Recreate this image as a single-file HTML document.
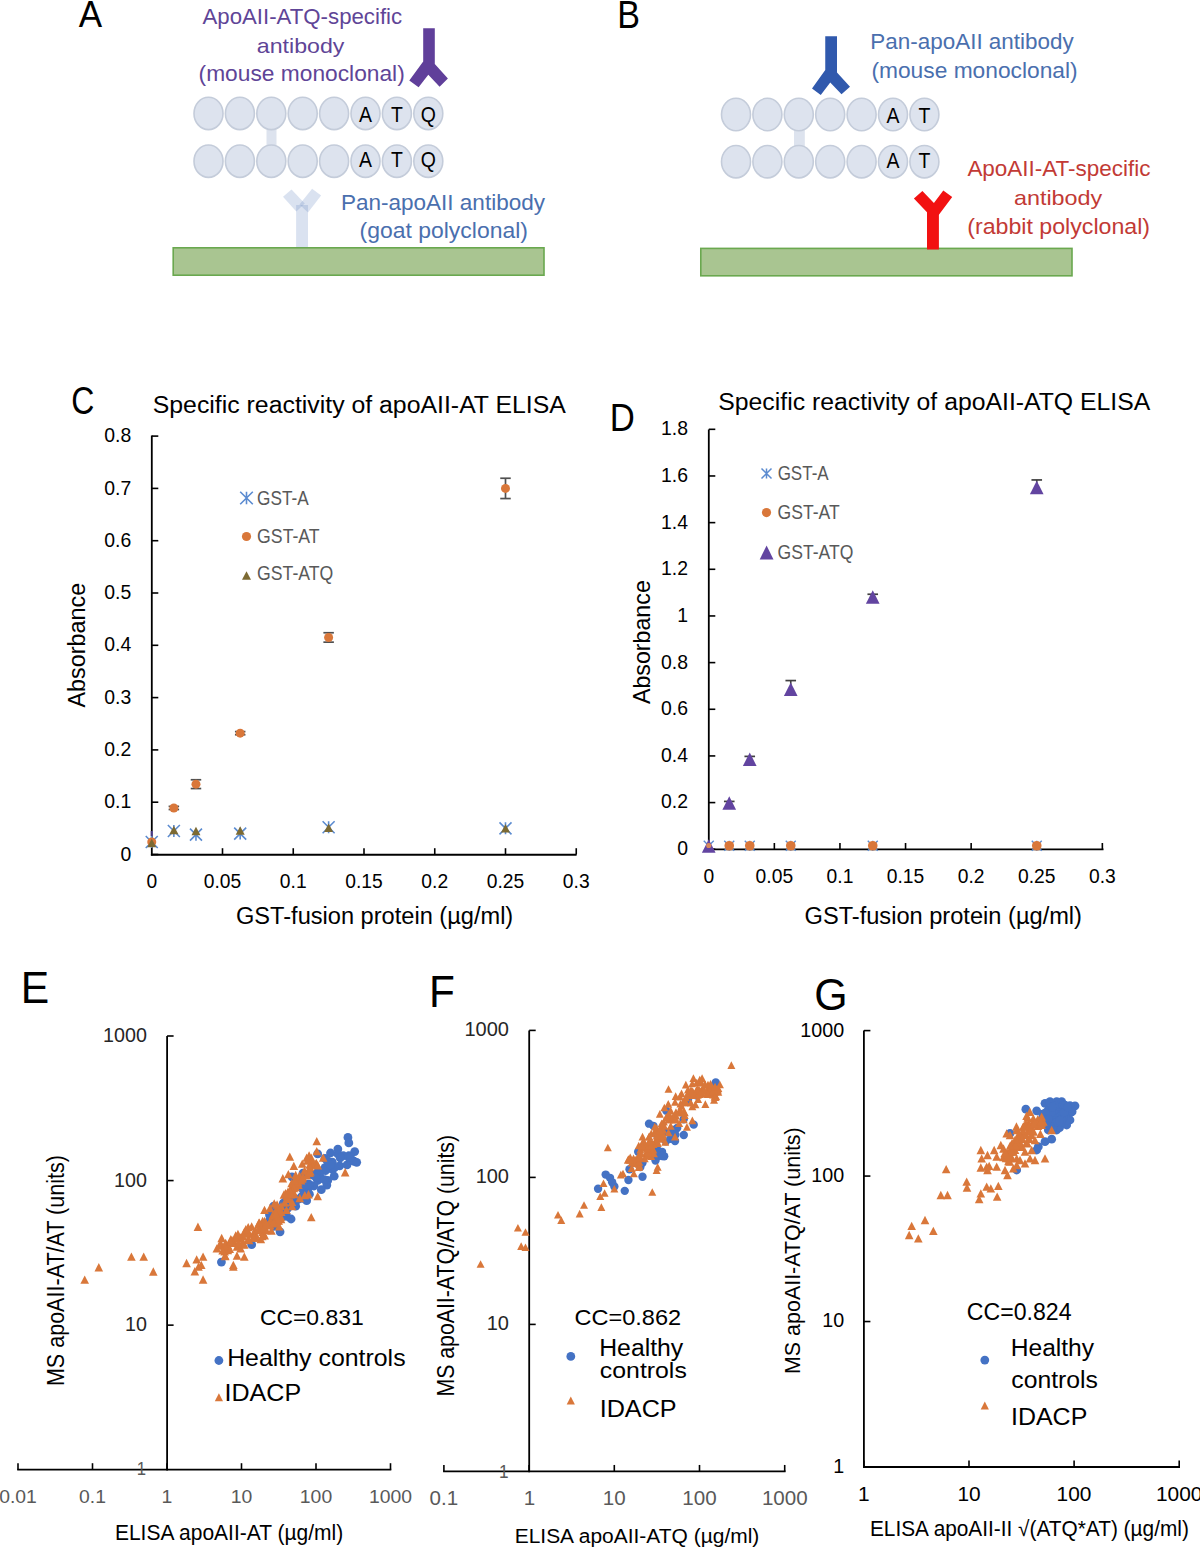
<!DOCTYPE html><html><head><meta charset="utf-8"><title>Figure</title><style>html,body{margin:0;padding:0;background:#fff;width:1200px;height:1547px;overflow:hidden}svg{display:block}text{font-family:"Liberation Sans",sans-serif}</style></head><body>
<svg width="1200" height="1547" viewBox="0 0 1200 1547">
<rect width="1200" height="1547" fill="#fff"/>
<rect x="266.5" y="128" width="10" height="20" fill="#dde3ee"/>
<ellipse cx="208.50" cy="113.40" rx="14.5" ry="16.2" fill="#dde3ee" stroke="#c4ccda" stroke-width="1.6"/>
<ellipse cx="239.90" cy="113.40" rx="14.5" ry="16.2" fill="#dde3ee" stroke="#c4ccda" stroke-width="1.6"/>
<ellipse cx="271.30" cy="113.40" rx="14.5" ry="16.2" fill="#dde3ee" stroke="#c4ccda" stroke-width="1.6"/>
<ellipse cx="302.70" cy="113.40" rx="14.5" ry="16.2" fill="#dde3ee" stroke="#c4ccda" stroke-width="1.6"/>
<ellipse cx="334.10" cy="113.40" rx="14.5" ry="16.2" fill="#dde3ee" stroke="#c4ccda" stroke-width="1.6"/>
<ellipse cx="365.50" cy="113.40" rx="14.5" ry="16.2" fill="#dde3ee" stroke="#c4ccda" stroke-width="1.6"/>
<ellipse cx="396.90" cy="113.40" rx="14.5" ry="16.2" fill="#dde3ee" stroke="#c4ccda" stroke-width="1.6"/>
<ellipse cx="428.30" cy="113.40" rx="14.5" ry="16.2" fill="#dde3ee" stroke="#c4ccda" stroke-width="1.6"/>
<text x="0" y="0" font-size="21.6" text-anchor="middle" fill="#000" transform="translate(365.50 121.50) scale(0.9 1)">A</text>
<text x="0" y="0" font-size="21.6" text-anchor="middle" fill="#000" transform="translate(396.90 121.50) scale(0.9 1)">T</text>
<text x="0" y="0" font-size="21.6" text-anchor="middle" fill="#000" transform="translate(428.30 121.50) scale(0.9 1)">Q</text>
<ellipse cx="208.50" cy="161.20" rx="14.5" ry="16.2" fill="#dde3ee" stroke="#c4ccda" stroke-width="1.6"/>
<ellipse cx="239.90" cy="161.20" rx="14.5" ry="16.2" fill="#dde3ee" stroke="#c4ccda" stroke-width="1.6"/>
<ellipse cx="271.30" cy="161.20" rx="14.5" ry="16.2" fill="#dde3ee" stroke="#c4ccda" stroke-width="1.6"/>
<ellipse cx="302.70" cy="161.20" rx="14.5" ry="16.2" fill="#dde3ee" stroke="#c4ccda" stroke-width="1.6"/>
<ellipse cx="334.10" cy="161.20" rx="14.5" ry="16.2" fill="#dde3ee" stroke="#c4ccda" stroke-width="1.6"/>
<ellipse cx="365.50" cy="161.20" rx="14.5" ry="16.2" fill="#dde3ee" stroke="#c4ccda" stroke-width="1.6"/>
<ellipse cx="396.90" cy="161.20" rx="14.5" ry="16.2" fill="#dde3ee" stroke="#c4ccda" stroke-width="1.6"/>
<ellipse cx="428.30" cy="161.20" rx="14.5" ry="16.2" fill="#dde3ee" stroke="#c4ccda" stroke-width="1.6"/>
<text x="0" y="0" font-size="21.6" text-anchor="middle" fill="#000" transform="translate(365.50 166.90) scale(0.9 1)">A</text>
<text x="0" y="0" font-size="21.6" text-anchor="middle" fill="#000" transform="translate(396.90 166.90) scale(0.9 1)">T</text>
<text x="0" y="0" font-size="21.6" text-anchor="middle" fill="#000" transform="translate(428.30 166.90) scale(0.9 1)">Q</text>
<rect x="173.2" y="247.8" width="370.8" height="27.4" fill="#a9c591" stroke="#6aa84f" stroke-width="1.6"/>
<rect x="296.1" y="205.0" width="11.9" height="42.1" fill="#6788c1" fill-opacity="0.245"/>
<polygon points="291.50,189.40 283.00,196.70 296.30,211.50 304.80,203.50" fill="#6788c1" fill-opacity="0.245"/>
<polygon points="312.10,188.70 321.10,195.40 308.00,212.50 299.50,204.50" fill="#6788c1" fill-opacity="0.245"/>
<polygon points="423.20,28.20 434.80,28.20 434.80,64.00 447.90,78.50 439.60,86.70 428.30,74.80 418.60,87.30 409.30,80.50 423.20,61.40" fill="#603f9a"/>
<rect x="794" y="129" width="10.8" height="20" fill="#dde3ee"/>
<ellipse cx="736.00" cy="114.50" rx="14.5" ry="16.2" fill="#dde3ee" stroke="#c4ccda" stroke-width="1.6"/>
<ellipse cx="767.40" cy="114.50" rx="14.5" ry="16.2" fill="#dde3ee" stroke="#c4ccda" stroke-width="1.6"/>
<ellipse cx="798.80" cy="114.50" rx="14.5" ry="16.2" fill="#dde3ee" stroke="#c4ccda" stroke-width="1.6"/>
<ellipse cx="830.20" cy="114.50" rx="14.5" ry="16.2" fill="#dde3ee" stroke="#c4ccda" stroke-width="1.6"/>
<ellipse cx="861.60" cy="114.50" rx="14.5" ry="16.2" fill="#dde3ee" stroke="#c4ccda" stroke-width="1.6"/>
<ellipse cx="893.00" cy="114.50" rx="14.5" ry="16.2" fill="#dde3ee" stroke="#c4ccda" stroke-width="1.6"/>
<ellipse cx="924.40" cy="114.50" rx="14.5" ry="16.2" fill="#dde3ee" stroke="#c4ccda" stroke-width="1.6"/>
<text x="0" y="0" font-size="21.6" text-anchor="middle" fill="#000" transform="translate(893.00 122.70) scale(0.9 1)">A</text>
<text x="0" y="0" font-size="21.6" text-anchor="middle" fill="#000" transform="translate(924.40 122.70) scale(0.9 1)">T</text>
<ellipse cx="736.00" cy="161.70" rx="14.5" ry="16.2" fill="#dde3ee" stroke="#c4ccda" stroke-width="1.6"/>
<ellipse cx="767.40" cy="161.70" rx="14.5" ry="16.2" fill="#dde3ee" stroke="#c4ccda" stroke-width="1.6"/>
<ellipse cx="798.80" cy="161.70" rx="14.5" ry="16.2" fill="#dde3ee" stroke="#c4ccda" stroke-width="1.6"/>
<ellipse cx="830.20" cy="161.70" rx="14.5" ry="16.2" fill="#dde3ee" stroke="#c4ccda" stroke-width="1.6"/>
<ellipse cx="861.60" cy="161.70" rx="14.5" ry="16.2" fill="#dde3ee" stroke="#c4ccda" stroke-width="1.6"/>
<ellipse cx="893.00" cy="161.70" rx="14.5" ry="16.2" fill="#dde3ee" stroke="#c4ccda" stroke-width="1.6"/>
<ellipse cx="924.40" cy="161.70" rx="14.5" ry="16.2" fill="#dde3ee" stroke="#c4ccda" stroke-width="1.6"/>
<text x="0" y="0" font-size="21.6" text-anchor="middle" fill="#000" transform="translate(893.00 167.70) scale(0.9 1)">A</text>
<text x="0" y="0" font-size="21.6" text-anchor="middle" fill="#000" transform="translate(924.40 167.70) scale(0.9 1)">T</text>
<rect x="700.8" y="248.4" width="371.2" height="27.4" fill="#a9c591" stroke="#6aa84f" stroke-width="1.6"/>
<polygon points="825.25,36.25 837.00,36.25 837.00,72.50 850.00,86.75 841.50,94.25 830.25,82.50 820.75,95.00 812.00,88.50 825.25,70.00" fill="#3059ad"/>
<polygon points="927.00,249.60 938.90,249.60 938.90,214.80 952.20,197.10 943.30,190.50 933.90,202.90 922.40,191.00 913.90,198.50 927.00,212.30" fill="#f21111"/>
<line x1="151.80" y1="435.50" x2="151.80" y2="855.60" stroke="#000" stroke-width="1.80"/>
<line x1="150.90" y1="854.75" x2="576.60" y2="854.75" stroke="#000" stroke-width="1.80"/>
<line x1="151.80" y1="854.50" x2="158.30" y2="854.50" stroke="#000" stroke-width="1.60"/>
<text x="0" y="0" font-size="20.43" text-anchor="end" fill="#000" transform="translate(131.20 860.60) scale(0.950 1)">0</text>
<line x1="151.80" y1="802.20" x2="158.30" y2="802.20" stroke="#000" stroke-width="1.60"/>
<text x="0" y="0" font-size="20.43" text-anchor="end" fill="#000" transform="translate(131.20 808.30) scale(0.950 1)">0.1</text>
<line x1="151.80" y1="749.90" x2="158.30" y2="749.90" stroke="#000" stroke-width="1.60"/>
<text x="0" y="0" font-size="20.43" text-anchor="end" fill="#000" transform="translate(131.20 756.00) scale(0.950 1)">0.2</text>
<line x1="151.80" y1="697.60" x2="158.30" y2="697.60" stroke="#000" stroke-width="1.60"/>
<text x="0" y="0" font-size="20.43" text-anchor="end" fill="#000" transform="translate(131.20 703.70) scale(0.950 1)">0.3</text>
<line x1="151.80" y1="645.30" x2="158.30" y2="645.30" stroke="#000" stroke-width="1.60"/>
<text x="0" y="0" font-size="20.43" text-anchor="end" fill="#000" transform="translate(131.20 651.40) scale(0.950 1)">0.4</text>
<line x1="151.80" y1="593.00" x2="158.30" y2="593.00" stroke="#000" stroke-width="1.60"/>
<text x="0" y="0" font-size="20.43" text-anchor="end" fill="#000" transform="translate(131.20 599.10) scale(0.950 1)">0.5</text>
<line x1="151.80" y1="540.70" x2="158.30" y2="540.70" stroke="#000" stroke-width="1.60"/>
<text x="0" y="0" font-size="20.43" text-anchor="end" fill="#000" transform="translate(131.20 546.80) scale(0.950 1)">0.6</text>
<line x1="151.80" y1="488.40" x2="158.30" y2="488.40" stroke="#000" stroke-width="1.60"/>
<text x="0" y="0" font-size="20.43" text-anchor="end" fill="#000" transform="translate(131.20 494.50) scale(0.950 1)">0.7</text>
<line x1="151.80" y1="436.10" x2="158.30" y2="436.10" stroke="#000" stroke-width="1.60"/>
<text x="0" y="0" font-size="20.43" text-anchor="end" fill="#000" transform="translate(131.20 442.20) scale(0.950 1)">0.8</text>
<text x="0" y="0" font-size="20.29" text-anchor="middle" fill="#000" transform="translate(151.75 888.20) scale(0.950 1)">0</text>
<line x1="222.50" y1="848.20" x2="222.50" y2="854.50" stroke="#000" stroke-width="1.60"/>
<text x="0" y="0" font-size="20.29" text-anchor="middle" fill="#000" transform="translate(222.50 888.20) scale(0.950 1)">0.05</text>
<line x1="293.25" y1="848.20" x2="293.25" y2="854.50" stroke="#000" stroke-width="1.60"/>
<text x="0" y="0" font-size="20.29" text-anchor="middle" fill="#000" transform="translate(293.25 888.20) scale(0.950 1)">0.1</text>
<line x1="364.00" y1="848.20" x2="364.00" y2="854.50" stroke="#000" stroke-width="1.60"/>
<text x="0" y="0" font-size="20.29" text-anchor="middle" fill="#000" transform="translate(364.00 888.20) scale(0.950 1)">0.15</text>
<line x1="434.75" y1="848.20" x2="434.75" y2="854.50" stroke="#000" stroke-width="1.60"/>
<text x="0" y="0" font-size="20.29" text-anchor="middle" fill="#000" transform="translate(434.75 888.20) scale(0.950 1)">0.2</text>
<line x1="505.50" y1="848.20" x2="505.50" y2="854.50" stroke="#000" stroke-width="1.60"/>
<text x="0" y="0" font-size="20.29" text-anchor="middle" fill="#000" transform="translate(505.50 888.20) scale(0.950 1)">0.25</text>
<line x1="576.25" y1="848.20" x2="576.25" y2="854.50" stroke="#000" stroke-width="1.60"/>
<text x="0" y="0" font-size="20.29" text-anchor="middle" fill="#000" transform="translate(576.25 888.20) scale(0.950 1)">0.3</text>
<path d="M145.75 835.95L157.75 847.95M157.75 835.95L145.75 847.95M151.75 835.95L151.75 847.95" stroke="#5b8bd0" stroke-width="1.60" fill="none"/>
<path d="M167.86 824.97L179.86 836.97M179.86 824.97L167.86 836.97M173.86 824.97L173.86 836.97" stroke="#5b8bd0" stroke-width="1.60" fill="none"/>
<path d="M189.97 828.63L201.97 840.63M201.97 828.63L189.97 840.63M195.97 828.63L195.97 840.63" stroke="#5b8bd0" stroke-width="1.60" fill="none"/>
<path d="M234.19 827.58L246.19 839.58M246.19 827.58L234.19 839.58M240.19 827.58L240.19 839.58" stroke="#5b8bd0" stroke-width="1.60" fill="none"/>
<path d="M322.62 821.30L334.62 833.30M334.62 821.30L322.62 833.30M328.62 821.30L328.62 833.30" stroke="#5b8bd0" stroke-width="1.60" fill="none"/>
<path d="M499.50 822.35L511.50 834.35M511.50 822.35L499.50 834.35M505.50 822.35L505.50 834.35" stroke="#5b8bd0" stroke-width="1.60" fill="none"/>
<circle cx="151.75" cy="841.95" r="4.50" fill="#d9773a"/>
<line x1="173.86" y1="806.38" x2="173.86" y2="809.52" stroke="#505050" stroke-width="1.70"/>
<line x1="168.61" y1="806.38" x2="179.11" y2="806.38" stroke="#505050" stroke-width="1.70"/>
<line x1="168.61" y1="809.52" x2="179.11" y2="809.52" stroke="#505050" stroke-width="1.70"/>
<circle cx="173.86" cy="807.95" r="4.50" fill="#d9773a"/>
<line x1="195.97" y1="779.76" x2="195.97" y2="788.55" stroke="#505050" stroke-width="1.70"/>
<line x1="190.72" y1="779.76" x2="201.22" y2="779.76" stroke="#505050" stroke-width="1.70"/>
<line x1="190.72" y1="788.55" x2="201.22" y2="788.55" stroke="#505050" stroke-width="1.70"/>
<circle cx="195.97" cy="784.16" r="4.50" fill="#d9773a"/>
<line x1="240.19" y1="731.60" x2="240.19" y2="734.73" stroke="#505050" stroke-width="1.70"/>
<line x1="234.94" y1="731.60" x2="245.44" y2="731.60" stroke="#505050" stroke-width="1.70"/>
<line x1="234.94" y1="734.73" x2="245.44" y2="734.73" stroke="#505050" stroke-width="1.70"/>
<circle cx="240.19" cy="733.16" r="4.50" fill="#d9773a"/>
<line x1="328.62" y1="632.75" x2="328.62" y2="642.16" stroke="#505050" stroke-width="1.70"/>
<line x1="323.38" y1="632.75" x2="333.88" y2="632.75" stroke="#505050" stroke-width="1.70"/>
<line x1="323.38" y1="642.16" x2="333.88" y2="642.16" stroke="#505050" stroke-width="1.70"/>
<circle cx="328.62" cy="637.46" r="4.50" fill="#d9773a"/>
<line x1="505.50" y1="478.25" x2="505.50" y2="498.55" stroke="#505050" stroke-width="1.70"/>
<line x1="500.25" y1="478.25" x2="510.75" y2="478.25" stroke="#505050" stroke-width="1.70"/>
<line x1="500.25" y1="498.55" x2="510.75" y2="498.55" stroke="#505050" stroke-width="1.70"/>
<circle cx="505.50" cy="488.40" r="4.50" fill="#d9773a"/>
<path d="M151.75 838.74L156.25 847.24L147.25 847.24Z" fill="#7c6a33"/>
<path d="M173.86 825.67L178.36 834.17L169.36 834.17Z" fill="#7c6a33"/>
<path d="M195.97 826.72L200.47 835.22L191.47 835.22Z" fill="#7c6a33"/>
<path d="M240.19 826.19L244.69 834.69L235.69 834.69Z" fill="#7c6a33"/>
<path d="M328.62 823.58L333.12 832.08L324.12 832.08Z" fill="#7c6a33"/>
<path d="M505.50 824.10L510.00 832.60L501.00 832.60Z" fill="#7c6a33"/>
<rect x="150.6" y="831" width="2.4" height="5" fill="#5a4aa0" opacity="0.8"/>
<path d="M240.20 491.70L252.80 504.30M252.80 491.70L240.20 504.30M246.50 491.70L246.50 504.30" stroke="#5b8bd0" stroke-width="1.60" fill="none"/>
<circle cx="246.50" cy="536.50" r="4.60" fill="#d9773a"/>
<path d="M246.50 571.25L251.00 579.75L242.00 579.75Z" fill="#7c6a33"/>
<line x1="708.80" y1="429.60" x2="708.80" y2="850.10" stroke="#000" stroke-width="1.80"/>
<line x1="707.90" y1="849.30" x2="1103.50" y2="849.30" stroke="#000" stroke-width="1.80"/>
<line x1="708.80" y1="849.25" x2="715.30" y2="849.25" stroke="#000" stroke-width="1.60"/>
<text x="0" y="0" font-size="20.43" text-anchor="end" fill="#000" transform="translate(688.00 855.15) scale(0.950 1)">0</text>
<line x1="708.80" y1="802.59" x2="715.30" y2="802.59" stroke="#000" stroke-width="1.60"/>
<text x="0" y="0" font-size="20.43" text-anchor="end" fill="#000" transform="translate(688.00 808.49) scale(0.950 1)">0.2</text>
<line x1="708.80" y1="755.93" x2="715.30" y2="755.93" stroke="#000" stroke-width="1.60"/>
<text x="0" y="0" font-size="20.43" text-anchor="end" fill="#000" transform="translate(688.00 761.83) scale(0.950 1)">0.4</text>
<line x1="708.80" y1="709.27" x2="715.30" y2="709.27" stroke="#000" stroke-width="1.60"/>
<text x="0" y="0" font-size="20.43" text-anchor="end" fill="#000" transform="translate(688.00 715.17) scale(0.950 1)">0.6</text>
<line x1="708.80" y1="662.61" x2="715.30" y2="662.61" stroke="#000" stroke-width="1.60"/>
<text x="0" y="0" font-size="20.43" text-anchor="end" fill="#000" transform="translate(688.00 668.51) scale(0.950 1)">0.8</text>
<line x1="708.80" y1="615.95" x2="715.30" y2="615.95" stroke="#000" stroke-width="1.60"/>
<text x="0" y="0" font-size="20.43" text-anchor="end" fill="#000" transform="translate(688.00 621.85) scale(0.950 1)">1</text>
<line x1="708.80" y1="569.29" x2="715.30" y2="569.29" stroke="#000" stroke-width="1.60"/>
<text x="0" y="0" font-size="20.43" text-anchor="end" fill="#000" transform="translate(688.00 575.19) scale(0.950 1)">1.2</text>
<line x1="708.80" y1="522.63" x2="715.30" y2="522.63" stroke="#000" stroke-width="1.60"/>
<text x="0" y="0" font-size="20.43" text-anchor="end" fill="#000" transform="translate(688.00 528.53) scale(0.950 1)">1.4</text>
<line x1="708.80" y1="475.97" x2="715.30" y2="475.97" stroke="#000" stroke-width="1.60"/>
<text x="0" y="0" font-size="20.43" text-anchor="end" fill="#000" transform="translate(688.00 481.87) scale(0.950 1)">1.6</text>
<line x1="708.80" y1="429.31" x2="715.30" y2="429.31" stroke="#000" stroke-width="1.60"/>
<text x="0" y="0" font-size="20.43" text-anchor="end" fill="#000" transform="translate(688.00 435.21) scale(0.950 1)">1.8</text>
<text x="0" y="0" font-size="20.29" text-anchor="middle" fill="#000" transform="translate(708.75 883.00) scale(0.950 1)">0</text>
<line x1="774.35" y1="843.00" x2="774.35" y2="849.25" stroke="#000" stroke-width="1.60"/>
<text x="0" y="0" font-size="20.29" text-anchor="middle" fill="#000" transform="translate(774.35 883.00) scale(0.950 1)">0.05</text>
<line x1="839.95" y1="843.00" x2="839.95" y2="849.25" stroke="#000" stroke-width="1.60"/>
<text x="0" y="0" font-size="20.29" text-anchor="middle" fill="#000" transform="translate(839.95 883.00) scale(0.950 1)">0.1</text>
<line x1="905.55" y1="843.00" x2="905.55" y2="849.25" stroke="#000" stroke-width="1.60"/>
<text x="0" y="0" font-size="20.29" text-anchor="middle" fill="#000" transform="translate(905.55 883.00) scale(0.950 1)">0.15</text>
<line x1="971.15" y1="843.00" x2="971.15" y2="849.25" stroke="#000" stroke-width="1.60"/>
<text x="0" y="0" font-size="20.29" text-anchor="middle" fill="#000" transform="translate(971.15 883.00) scale(0.950 1)">0.2</text>
<line x1="1036.75" y1="843.00" x2="1036.75" y2="849.25" stroke="#000" stroke-width="1.60"/>
<text x="0" y="0" font-size="20.29" text-anchor="middle" fill="#000" transform="translate(1036.75 883.00) scale(0.950 1)">0.25</text>
<line x1="1102.35" y1="843.00" x2="1102.35" y2="849.25" stroke="#000" stroke-width="1.60"/>
<text x="0" y="0" font-size="20.29" text-anchor="middle" fill="#000" transform="translate(1102.35 883.00) scale(0.950 1)">0.3</text>
<path d="M703.75 840.75L713.75 850.75M713.75 840.75L703.75 850.75M708.75 840.75L708.75 850.75" stroke="#5b8bd0" stroke-width="1.40" fill="none"/>
<path d="M724.25 840.75L734.25 850.75M734.25 840.75L724.25 850.75M729.25 840.75L729.25 850.75" stroke="#5b8bd0" stroke-width="1.40" fill="none"/>
<path d="M744.75 840.75L754.75 850.75M754.75 840.75L744.75 850.75M749.75 840.75L749.75 850.75" stroke="#5b8bd0" stroke-width="1.40" fill="none"/>
<path d="M785.75 840.75L795.75 850.75M795.75 840.75L785.75 850.75M790.75 840.75L790.75 850.75" stroke="#5b8bd0" stroke-width="1.40" fill="none"/>
<path d="M867.75 840.75L877.75 850.75M877.75 840.75L867.75 850.75M872.75 840.75L872.75 850.75" stroke="#5b8bd0" stroke-width="1.40" fill="none"/>
<path d="M1031.75 840.75L1041.75 850.75M1041.75 840.75L1031.75 850.75M1036.75 840.75L1036.75 850.75" stroke="#5b8bd0" stroke-width="1.40" fill="none"/>
<circle cx="729.25" cy="845.75" r="4.80" fill="#d9773a"/>
<circle cx="749.75" cy="845.75" r="4.80" fill="#d9773a"/>
<circle cx="790.75" cy="845.75" r="4.80" fill="#d9773a"/>
<circle cx="872.75" cy="845.75" r="4.80" fill="#d9773a"/>
<circle cx="1036.75" cy="845.75" r="4.80" fill="#d9773a"/>
<path d="M708.75 839.15L715.60 852.65L701.90 852.65Z" fill="#6244a0"/>
<line x1="729.25" y1="801.42" x2="729.25" y2="802.59" stroke="#404040" stroke-width="1.60"/>
<line x1="723.95" y1="801.42" x2="734.55" y2="801.42" stroke="#404040" stroke-width="1.70"/>
<path d="M729.25 796.34L736.10 809.84L722.40 809.84Z" fill="#6244a0"/>
<line x1="749.75" y1="756.40" x2="749.75" y2="758.73" stroke="#404040" stroke-width="1.60"/>
<line x1="744.45" y1="756.40" x2="755.05" y2="756.40" stroke="#404040" stroke-width="1.70"/>
<path d="M749.75 752.48L756.60 765.98L742.90 765.98Z" fill="#6244a0"/>
<line x1="790.75" y1="680.57" x2="790.75" y2="688.74" stroke="#404040" stroke-width="1.60"/>
<line x1="785.45" y1="680.57" x2="796.05" y2="680.57" stroke="#404040" stroke-width="1.70"/>
<path d="M790.75 682.49L797.60 695.99L783.90 695.99Z" fill="#6244a0"/>
<line x1="872.75" y1="594.25" x2="872.75" y2="596.59" stroke="#404040" stroke-width="1.60"/>
<line x1="867.45" y1="594.25" x2="878.05" y2="594.25" stroke="#404040" stroke-width="1.70"/>
<path d="M872.75 590.34L879.60 603.84L865.90 603.84Z" fill="#6244a0"/>
<line x1="1036.75" y1="479.94" x2="1036.75" y2="486.94" stroke="#404040" stroke-width="1.60"/>
<line x1="1031.45" y1="479.94" x2="1042.05" y2="479.94" stroke="#404040" stroke-width="1.70"/>
<path d="M1036.75 480.69L1043.60 494.19L1029.90 494.19Z" fill="#6244a0"/>
<circle cx="708.75" cy="845.50" r="2.60" fill="#d98a5a"/>
<path d="M761.50 468.50L771.50 478.50M771.50 468.50L761.50 478.50M766.50 468.50L766.50 478.50" stroke="#5b8bd0" stroke-width="1.50" fill="none"/>
<circle cx="766.50" cy="512.60" r="4.60" fill="#d9773a"/>
<path d="M766.60 545.50L773.50 559.50L759.70 559.50Z" fill="#6244a0"/>
<line x1="167.10" y1="1036.00" x2="167.10" y2="1470.50" stroke="#000" stroke-width="1.80"/>
<line x1="17.20" y1="1469.70" x2="391.30" y2="1469.70" stroke="#000" stroke-width="1.80"/>
<line x1="18.00" y1="1463.20" x2="18.00" y2="1469.70" stroke="#000" stroke-width="1.60"/>
<line x1="92.50" y1="1463.20" x2="92.50" y2="1469.70" stroke="#000" stroke-width="1.60"/>
<line x1="167.00" y1="1463.20" x2="167.00" y2="1469.70" stroke="#000" stroke-width="1.60"/>
<line x1="241.50" y1="1463.20" x2="241.50" y2="1469.70" stroke="#000" stroke-width="1.60"/>
<line x1="316.00" y1="1463.20" x2="316.00" y2="1469.70" stroke="#000" stroke-width="1.60"/>
<line x1="390.50" y1="1463.20" x2="390.50" y2="1469.70" stroke="#000" stroke-width="1.60"/>
<line x1="167.10" y1="1036.00" x2="173.60" y2="1036.00" stroke="#000" stroke-width="1.60"/>
<line x1="167.10" y1="1180.57" x2="173.60" y2="1180.57" stroke="#000" stroke-width="1.60"/>
<line x1="167.10" y1="1325.14" x2="173.60" y2="1325.14" stroke="#000" stroke-width="1.60"/>
<text x="0" y="0" font-size="19.71" text-anchor="end" fill="#262626" transform="translate(146.90 1041.90) scale(1.000 1)">1000</text>
<text x="0" y="0" font-size="19.71" text-anchor="end" fill="#262626" transform="translate(146.90 1186.50) scale(1.000 1)">100</text>
<text x="0" y="0" font-size="19.71" text-anchor="end" fill="#262626" transform="translate(146.90 1331.00) scale(1.000 1)">10</text>
<text x="0" y="0" font-size="18.29" text-anchor="middle" fill="#595959" transform="translate(18.00 1503.12) scale(1.060 1)">0.01</text>
<text x="0" y="0" font-size="18.29" text-anchor="middle" fill="#595959" transform="translate(92.50 1503.12) scale(1.060 1)">0.1</text>
<text x="0" y="0" font-size="18.29" text-anchor="middle" fill="#595959" transform="translate(167.00 1503.12) scale(1.060 1)">1</text>
<text x="0" y="0" font-size="18.29" text-anchor="middle" fill="#595959" transform="translate(241.50 1503.12) scale(1.060 1)">10</text>
<text x="0" y="0" font-size="18.29" text-anchor="middle" fill="#595959" transform="translate(316.00 1503.12) scale(1.060 1)">100</text>
<text x="0" y="0" font-size="18.29" text-anchor="middle" fill="#595959" transform="translate(390.50 1503.12) scale(1.060 1)">1000</text>
<text x="0" y="0" font-size="18.57" text-anchor="end" fill="#595959" transform="translate(146.00 1475.31) scale(0.900 1)">1</text>
<circle cx="347.92" cy="1137.42" r="4.40" fill="#4472c4"/>
<circle cx="348.83" cy="1142.92" r="4.40" fill="#4472c4"/>
<circle cx="354.70" cy="1151.53" r="4.40" fill="#4472c4"/>
<circle cx="330.50" cy="1153.00" r="4.40" fill="#4472c4"/>
<circle cx="337.83" cy="1153.92" r="4.40" fill="#4472c4"/>
<circle cx="343.33" cy="1155.75" r="4.40" fill="#4472c4"/>
<circle cx="348.83" cy="1155.75" r="4.40" fill="#4472c4"/>
<circle cx="317.67" cy="1153.92" r="4.40" fill="#4472c4"/>
<circle cx="325.00" cy="1158.50" r="4.40" fill="#4472c4"/>
<circle cx="332.33" cy="1162.17" r="4.40" fill="#4472c4"/>
<circle cx="339.67" cy="1165.83" r="4.40" fill="#4472c4"/>
<circle cx="347.00" cy="1164.92" r="4.40" fill="#4472c4"/>
<circle cx="332.33" cy="1169.50" r="4.40" fill="#4472c4"/>
<circle cx="325.00" cy="1167.67" r="4.40" fill="#4472c4"/>
<circle cx="319.50" cy="1173.17" r="4.40" fill="#4472c4"/>
<circle cx="312.17" cy="1175.00" r="4.40" fill="#4472c4"/>
<circle cx="317.67" cy="1180.50" r="4.40" fill="#4472c4"/>
<circle cx="327.75" cy="1180.50" r="4.40" fill="#4472c4"/>
<circle cx="326.83" cy="1185.08" r="4.40" fill="#4472c4"/>
<circle cx="321.33" cy="1189.67" r="4.40" fill="#4472c4"/>
<circle cx="314.00" cy="1186.00" r="4.40" fill="#4472c4"/>
<circle cx="306.67" cy="1184.17" r="4.40" fill="#4472c4"/>
<circle cx="303.00" cy="1189.67" r="4.40" fill="#4472c4"/>
<circle cx="301.17" cy="1197.00" r="4.40" fill="#4472c4"/>
<circle cx="306.67" cy="1200.67" r="4.40" fill="#4472c4"/>
<circle cx="299.33" cy="1198.83" r="4.40" fill="#4472c4"/>
<circle cx="295.67" cy="1206.17" r="4.40" fill="#4472c4"/>
<circle cx="286.50" cy="1197.00" r="4.40" fill="#4472c4"/>
<circle cx="273.67" cy="1206.17" r="4.40" fill="#4472c4"/>
<circle cx="270.00" cy="1219.92" r="4.40" fill="#4472c4"/>
<circle cx="291.08" cy="1219.00" r="4.40" fill="#4472c4"/>
<circle cx="280.08" cy="1231.83" r="4.40" fill="#4472c4"/>
<circle cx="273.67" cy="1226.33" r="4.40" fill="#4472c4"/>
<circle cx="251.67" cy="1244.67" r="4.40" fill="#4472c4"/>
<circle cx="221.42" cy="1262.08" r="4.40" fill="#4472c4"/>
<circle cx="303.00" cy="1173.17" r="4.40" fill="#4472c4"/>
<circle cx="292.00" cy="1176.83" r="4.40" fill="#4472c4"/>
<circle cx="350.67" cy="1160.33" r="4.40" fill="#4472c4"/>
<circle cx="299.40" cy="1183.45" r="4.40" fill="#4472c4"/>
<circle cx="304.49" cy="1186.51" r="4.40" fill="#4472c4"/>
<circle cx="308.62" cy="1184.22" r="4.40" fill="#4472c4"/>
<circle cx="309.60" cy="1184.58" r="4.40" fill="#4472c4"/>
<circle cx="320.03" cy="1177.06" r="4.40" fill="#4472c4"/>
<circle cx="293.43" cy="1200.15" r="4.40" fill="#4472c4"/>
<circle cx="279.19" cy="1218.56" r="4.40" fill="#4472c4"/>
<circle cx="269.48" cy="1214.86" r="4.40" fill="#4472c4"/>
<circle cx="354.14" cy="1161.27" r="4.40" fill="#4472c4"/>
<circle cx="317.54" cy="1176.74" r="4.40" fill="#4472c4"/>
<circle cx="286.65" cy="1216.37" r="4.40" fill="#4472c4"/>
<circle cx="275.32" cy="1219.09" r="4.40" fill="#4472c4"/>
<circle cx="285.99" cy="1209.92" r="4.40" fill="#4472c4"/>
<circle cx="307.79" cy="1190.08" r="4.40" fill="#4472c4"/>
<circle cx="307.34" cy="1193.19" r="4.40" fill="#4472c4"/>
<circle cx="317.24" cy="1172.66" r="4.40" fill="#4472c4"/>
<circle cx="307.90" cy="1184.73" r="4.40" fill="#4472c4"/>
<circle cx="289.87" cy="1200.43" r="4.40" fill="#4472c4"/>
<circle cx="356.70" cy="1162.32" r="4.40" fill="#4472c4"/>
<circle cx="325.44" cy="1170.61" r="4.40" fill="#4472c4"/>
<circle cx="296.03" cy="1200.94" r="4.40" fill="#4472c4"/>
<circle cx="278.20" cy="1220.84" r="4.40" fill="#4472c4"/>
<circle cx="327.23" cy="1160.53" r="4.40" fill="#4472c4"/>
<circle cx="304.73" cy="1198.79" r="4.40" fill="#4472c4"/>
<circle cx="348.67" cy="1157.19" r="4.40" fill="#4472c4"/>
<circle cx="287.52" cy="1208.47" r="4.40" fill="#4472c4"/>
<circle cx="337.85" cy="1149.12" r="4.40" fill="#4472c4"/>
<circle cx="303.62" cy="1196.03" r="4.40" fill="#4472c4"/>
<circle cx="272.77" cy="1213.59" r="4.40" fill="#4472c4"/>
<circle cx="288.22" cy="1200.05" r="4.40" fill="#4472c4"/>
<circle cx="273.71" cy="1212.34" r="4.40" fill="#4472c4"/>
<circle cx="334.19" cy="1176.22" r="4.40" fill="#4472c4"/>
<circle cx="279.93" cy="1214.78" r="4.40" fill="#4472c4"/>
<circle cx="276.33" cy="1220.28" r="4.40" fill="#4472c4"/>
<circle cx="334.52" cy="1167.59" r="4.40" fill="#4472c4"/>
<circle cx="309.41" cy="1194.21" r="4.40" fill="#4472c4"/>
<circle cx="285.83" cy="1209.64" r="4.40" fill="#4472c4"/>
<circle cx="319.04" cy="1173.95" r="4.40" fill="#4472c4"/>
<circle cx="278.06" cy="1212.71" r="4.40" fill="#4472c4"/>
<circle cx="293.29" cy="1205.12" r="4.40" fill="#4472c4"/>
<circle cx="350.46" cy="1157.49" r="4.40" fill="#4472c4"/>
<circle cx="340.17" cy="1157.83" r="4.40" fill="#4472c4"/>
<circle cx="283.32" cy="1203.08" r="4.40" fill="#4472c4"/>
<circle cx="324.40" cy="1179.64" r="4.40" fill="#4472c4"/>
<circle cx="280.37" cy="1218.36" r="4.40" fill="#4472c4"/>
<circle cx="291.21" cy="1204.79" r="4.40" fill="#4472c4"/>
<circle cx="330.23" cy="1164.91" r="4.40" fill="#4472c4"/>
<circle cx="278.24" cy="1220.34" r="4.40" fill="#4472c4"/>
<circle cx="275.74" cy="1214.35" r="4.40" fill="#4472c4"/>
<circle cx="316.29" cy="1177.66" r="4.40" fill="#4472c4"/>
<path d="M316.75 1136.88L321.05 1145.28L312.45 1145.28Z" fill="#d9773a"/>
<path d="M316.75 1146.97L321.05 1155.37L312.45 1155.37Z" fill="#d9773a"/>
<path d="M289.80 1152.47L294.10 1160.87L285.50 1160.87Z" fill="#d9773a"/>
<path d="M306.67 1153.38L310.97 1161.78L302.37 1161.78Z" fill="#d9773a"/>
<path d="M311.25 1153.38L315.55 1161.78L306.95 1161.78Z" fill="#d9773a"/>
<path d="M323.17 1153.38L327.47 1161.78L318.87 1161.78Z" fill="#d9773a"/>
<path d="M293.83 1161.63L298.13 1170.03L289.53 1170.03Z" fill="#d9773a"/>
<path d="M315.83 1159.80L320.13 1168.20L311.53 1168.20Z" fill="#d9773a"/>
<path d="M310.33 1167.13L314.63 1175.53L306.03 1175.53Z" fill="#d9773a"/>
<path d="M282.83 1174.10L287.13 1182.50L278.53 1182.50Z" fill="#d9773a"/>
<path d="M288.33 1169.88L292.63 1178.28L284.03 1178.28Z" fill="#d9773a"/>
<path d="M295.67 1170.80L299.97 1179.20L291.37 1179.20Z" fill="#d9773a"/>
<path d="M299.33 1174.47L303.63 1182.87L295.03 1182.87Z" fill="#d9773a"/>
<path d="M292.00 1181.80L296.30 1190.20L287.70 1190.20Z" fill="#d9773a"/>
<path d="M292.00 1189.13L296.30 1197.53L287.70 1197.53Z" fill="#d9773a"/>
<path d="M288.33 1194.63L292.63 1203.03L284.03 1203.03Z" fill="#d9773a"/>
<path d="M304.83 1190.97L309.13 1199.37L300.53 1199.37Z" fill="#d9773a"/>
<path d="M308.50 1190.05L312.80 1198.45L304.20 1198.45Z" fill="#d9773a"/>
<path d="M317.67 1191.88L321.97 1200.28L313.37 1200.28Z" fill="#d9773a"/>
<path d="M345.17 1168.05L349.47 1176.45L340.87 1176.45Z" fill="#d9773a"/>
<path d="M284.67 1198.30L288.97 1206.70L280.37 1206.70Z" fill="#d9773a"/>
<path d="M281.00 1201.97L285.30 1210.37L276.70 1210.37Z" fill="#d9773a"/>
<path d="M264.50 1205.63L268.80 1214.03L260.20 1214.03Z" fill="#d9773a"/>
<path d="M270.00 1203.80L274.30 1212.20L265.70 1212.20Z" fill="#d9773a"/>
<path d="M277.33 1207.47L281.63 1215.87L273.03 1215.87Z" fill="#d9773a"/>
<path d="M286.50 1205.63L290.80 1214.03L282.20 1214.03Z" fill="#d9773a"/>
<path d="M292.00 1201.97L296.30 1210.37L287.70 1210.37Z" fill="#d9773a"/>
<path d="M273.67 1211.13L277.97 1219.53L269.37 1219.53Z" fill="#d9773a"/>
<path d="M277.33 1216.63L281.63 1225.03L273.03 1225.03Z" fill="#d9773a"/>
<path d="M281.00 1214.80L285.30 1223.20L276.70 1223.20Z" fill="#d9773a"/>
<path d="M311.25 1212.97L315.55 1221.37L306.95 1221.37Z" fill="#d9773a"/>
<path d="M279.17 1222.13L283.47 1230.53L274.87 1230.53Z" fill="#d9773a"/>
<path d="M271.83 1218.47L276.13 1226.87L267.53 1226.87Z" fill="#d9773a"/>
<path d="M262.67 1216.63L266.97 1225.03L258.37 1225.03Z" fill="#d9773a"/>
<path d="M259.00 1218.47L263.30 1226.87L254.70 1226.87Z" fill="#d9773a"/>
<path d="M251.67 1222.13L255.97 1230.53L247.37 1230.53Z" fill="#d9773a"/>
<path d="M255.33 1225.80L259.63 1234.20L251.03 1234.20Z" fill="#d9773a"/>
<path d="M244.33 1227.63L248.63 1236.03L240.03 1236.03Z" fill="#d9773a"/>
<path d="M262.67 1227.63L266.97 1236.03L258.37 1236.03Z" fill="#d9773a"/>
<path d="M266.33 1225.80L270.63 1234.20L262.03 1234.20Z" fill="#d9773a"/>
<path d="M260.83 1234.97L265.13 1243.37L256.53 1243.37Z" fill="#d9773a"/>
<path d="M255.33 1233.13L259.63 1241.53L251.03 1241.53Z" fill="#d9773a"/>
<path d="M248.00 1234.97L252.30 1243.37L243.70 1243.37Z" fill="#d9773a"/>
<path d="M240.67 1233.13L244.97 1241.53L236.37 1241.53Z" fill="#d9773a"/>
<path d="M233.33 1236.80L237.63 1245.20L229.03 1245.20Z" fill="#d9773a"/>
<path d="M231.50 1238.63L235.80 1247.03L227.20 1247.03Z" fill="#d9773a"/>
<path d="M237.00 1242.30L241.30 1250.70L232.70 1250.70Z" fill="#d9773a"/>
<path d="M240.67 1244.13L244.97 1252.53L236.37 1252.53Z" fill="#d9773a"/>
<path d="M244.33 1240.47L248.63 1248.87L240.03 1248.87Z" fill="#d9773a"/>
<path d="M220.50 1238.63L224.80 1247.03L216.20 1247.03Z" fill="#d9773a"/>
<path d="M216.83 1244.13L221.13 1252.53L212.53 1252.53Z" fill="#d9773a"/>
<path d="M224.17 1244.13L228.47 1252.53L219.87 1252.53Z" fill="#d9773a"/>
<path d="M227.83 1245.97L232.13 1254.37L223.53 1254.37Z" fill="#d9773a"/>
<path d="M225.08 1251.47L229.38 1259.87L220.78 1259.87Z" fill="#d9773a"/>
<path d="M237.00 1251.47L241.30 1259.87L232.70 1259.87Z" fill="#d9773a"/>
<path d="M244.33 1252.38L248.63 1260.78L240.03 1260.78Z" fill="#d9773a"/>
<path d="M233.33 1260.63L237.63 1269.03L229.03 1269.03Z" fill="#d9773a"/>
<path d="M233.33 1262.47L237.63 1270.87L229.03 1270.87Z" fill="#d9773a"/>
<path d="M186.58 1258.80L190.88 1267.20L182.28 1267.20Z" fill="#d9773a"/>
<path d="M196.67 1255.13L200.97 1263.53L192.37 1263.53Z" fill="#d9773a"/>
<path d="M203.08 1252.38L207.38 1260.78L198.78 1260.78Z" fill="#d9773a"/>
<path d="M201.25 1260.63L205.55 1269.03L196.95 1269.03Z" fill="#d9773a"/>
<path d="M194.83 1267.05L199.13 1275.45L190.53 1275.45Z" fill="#d9773a"/>
<path d="M198.50 1262.47L202.80 1270.87L194.20 1270.87Z" fill="#d9773a"/>
<path d="M203.08 1275.30L207.38 1283.70L198.78 1283.70Z" fill="#d9773a"/>
<path d="M197.95 1222.50L202.25 1230.90L193.65 1230.90Z" fill="#d9773a"/>
<path d="M84.70 1275.40L89.00 1283.80L80.40 1283.80Z" fill="#d9773a"/>
<path d="M98.80 1263.10L103.10 1271.50L94.50 1271.50Z" fill="#d9773a"/>
<path d="M131.40 1252.40L135.70 1260.80L127.10 1260.80Z" fill="#d9773a"/>
<path d="M143.70 1252.40L148.00 1260.80L139.40 1260.80Z" fill="#d9773a"/>
<path d="M153.30 1267.30L157.60 1275.70L149.00 1275.70Z" fill="#d9773a"/>
<path d="M272.79 1210.79L277.09 1219.19L268.49 1219.19Z" fill="#d9773a"/>
<path d="M235.71 1231.34L240.01 1239.74L231.41 1239.74Z" fill="#d9773a"/>
<path d="M220.83 1241.33L225.13 1249.73L216.53 1249.73Z" fill="#d9773a"/>
<path d="M301.11 1176.20L305.41 1184.60L296.81 1184.60Z" fill="#d9773a"/>
<path d="M287.93 1187.60L292.23 1196.00L283.63 1196.00Z" fill="#d9773a"/>
<path d="M287.17 1191.62L291.47 1200.02L282.87 1200.02Z" fill="#d9773a"/>
<path d="M237.25 1233.80L241.55 1242.20L232.95 1242.20Z" fill="#d9773a"/>
<path d="M308.53 1166.57L312.83 1174.97L304.23 1174.97Z" fill="#d9773a"/>
<path d="M227.97 1241.41L232.27 1249.81L223.67 1249.81Z" fill="#d9773a"/>
<path d="M290.22 1189.30L294.52 1197.70L285.92 1197.70Z" fill="#d9773a"/>
<path d="M259.57 1219.87L263.87 1228.27L255.27 1228.27Z" fill="#d9773a"/>
<path d="M224.68 1247.19L228.98 1255.59L220.38 1255.59Z" fill="#d9773a"/>
<path d="M229.72 1244.59L234.02 1252.99L225.42 1252.99Z" fill="#d9773a"/>
<path d="M230.53 1236.66L234.83 1245.06L226.23 1245.06Z" fill="#d9773a"/>
<path d="M316.32 1158.64L320.62 1167.04L312.02 1167.04Z" fill="#d9773a"/>
<path d="M269.87 1217.62L274.17 1226.02L265.57 1226.02Z" fill="#d9773a"/>
<path d="M236.04 1234.45L240.34 1242.85L231.74 1242.85Z" fill="#d9773a"/>
<path d="M242.72 1239.79L247.02 1248.19L238.42 1248.19Z" fill="#d9773a"/>
<path d="M294.34 1189.87L298.64 1198.27L290.04 1198.27Z" fill="#d9773a"/>
<path d="M299.88 1175.07L304.18 1183.47L295.58 1183.47Z" fill="#d9773a"/>
<path d="M264.70 1216.78L269.00 1225.18L260.40 1225.18Z" fill="#d9773a"/>
<path d="M277.38 1214.93L281.68 1223.33L273.08 1223.33Z" fill="#d9773a"/>
<path d="M271.40 1226.46L275.70 1234.86L267.10 1234.86Z" fill="#d9773a"/>
<path d="M314.22 1160.38L318.52 1168.78L309.92 1168.78Z" fill="#d9773a"/>
<path d="M312.27 1157.44L316.57 1165.84L307.97 1165.84Z" fill="#d9773a"/>
<path d="M262.27 1221.45L266.57 1229.85L257.97 1229.85Z" fill="#d9773a"/>
<path d="M290.91 1189.16L295.21 1197.56L286.61 1197.56Z" fill="#d9773a"/>
<path d="M248.60 1229.42L252.90 1237.82L244.30 1237.82Z" fill="#d9773a"/>
<path d="M259.26 1218.42L263.56 1226.82L254.96 1226.82Z" fill="#d9773a"/>
<path d="M277.14 1210.40L281.44 1218.80L272.84 1218.80Z" fill="#d9773a"/>
<path d="M224.76 1244.29L229.06 1252.69L220.46 1252.69Z" fill="#d9773a"/>
<path d="M275.92 1206.29L280.22 1214.69L271.62 1214.69Z" fill="#d9773a"/>
<path d="M246.30 1228.29L250.60 1236.69L242.00 1236.69Z" fill="#d9773a"/>
<path d="M298.32 1180.58L302.62 1188.98L294.02 1188.98Z" fill="#d9773a"/>
<path d="M231.97 1236.04L236.27 1244.44L227.67 1244.44Z" fill="#d9773a"/>
<path d="M291.38 1188.53L295.68 1196.93L287.08 1196.93Z" fill="#d9773a"/>
<path d="M224.73 1241.44L229.03 1249.84L220.43 1249.84Z" fill="#d9773a"/>
<path d="M291.96 1197.68L296.26 1206.08L287.66 1206.08Z" fill="#d9773a"/>
<path d="M225.68 1238.64L229.98 1247.04L221.38 1247.04Z" fill="#d9773a"/>
<path d="M255.41 1229.48L259.71 1237.88L251.11 1237.88Z" fill="#d9773a"/>
<path d="M278.68 1216.31L282.98 1224.71L274.38 1224.71Z" fill="#d9773a"/>
<path d="M311.27 1160.12L315.57 1168.52L306.97 1168.52Z" fill="#d9773a"/>
<path d="M242.43 1237.88L246.73 1246.28L238.13 1246.28Z" fill="#d9773a"/>
<path d="M242.82 1231.77L247.12 1240.17L238.52 1240.17Z" fill="#d9773a"/>
<path d="M295.64 1182.75L299.94 1191.15L291.34 1191.15Z" fill="#d9773a"/>
<path d="M253.34 1229.24L257.64 1237.64L249.04 1237.64Z" fill="#d9773a"/>
<path d="M295.07 1179.14L299.37 1187.54L290.77 1187.54Z" fill="#d9773a"/>
<path d="M222.65 1245.99L226.95 1254.39L218.35 1254.39Z" fill="#d9773a"/>
<path d="M221.67 1233.82L225.97 1242.22L217.37 1242.22Z" fill="#d9773a"/>
<path d="M309.09 1151.37L313.39 1159.77L304.79 1159.77Z" fill="#d9773a"/>
<path d="M280.79 1212.55L285.09 1220.95L276.49 1220.95Z" fill="#d9773a"/>
<path d="M298.10 1178.14L302.40 1186.54L293.80 1186.54Z" fill="#d9773a"/>
<path d="M299.48 1171.58L303.78 1179.98L295.18 1179.98Z" fill="#d9773a"/>
<path d="M277.92 1206.41L282.22 1214.81L273.62 1214.81Z" fill="#d9773a"/>
<path d="M273.86 1211.32L278.16 1219.72L269.56 1219.72Z" fill="#d9773a"/>
<path d="M309.64 1160.45L313.94 1168.85L305.34 1168.85Z" fill="#d9773a"/>
<path d="M308.07 1168.32L312.37 1176.72L303.77 1176.72Z" fill="#d9773a"/>
<path d="M306.87 1171.13L311.17 1179.53L302.57 1179.53Z" fill="#d9773a"/>
<path d="M256.44 1233.39L260.74 1241.79L252.14 1241.79Z" fill="#d9773a"/>
<path d="M290.55 1188.10L294.85 1196.50L286.25 1196.50Z" fill="#d9773a"/>
<path d="M293.32 1188.18L297.62 1196.58L289.02 1196.58Z" fill="#d9773a"/>
<path d="M253.01 1233.25L257.31 1241.65L248.71 1241.65Z" fill="#d9773a"/>
<path d="M290.66 1190.06L294.96 1198.46L286.36 1198.46Z" fill="#d9773a"/>
<path d="M304.55 1166.29L308.85 1174.69L300.25 1174.69Z" fill="#d9773a"/>
<path d="M270.25 1218.54L274.55 1226.94L265.95 1226.94Z" fill="#d9773a"/>
<path d="M317.75 1160.99L322.05 1169.39L313.45 1169.39Z" fill="#d9773a"/>
<path d="M277.08 1200.28L281.38 1208.68L272.78 1208.68Z" fill="#d9773a"/>
<path d="M307.41 1156.23L311.71 1164.63L303.11 1164.63Z" fill="#d9773a"/>
<path d="M291.63 1178.96L295.93 1187.36L287.33 1187.36Z" fill="#d9773a"/>
<path d="M309.37 1168.35L313.67 1176.75L305.07 1176.75Z" fill="#d9773a"/>
<path d="M294.67 1176.15L298.97 1184.55L290.37 1184.55Z" fill="#d9773a"/>
<path d="M263.84 1221.99L268.14 1230.39L259.54 1230.39Z" fill="#d9773a"/>
<path d="M293.86 1183.77L298.16 1192.17L289.56 1192.17Z" fill="#d9773a"/>
<path d="M292.69 1187.05L296.99 1195.45L288.39 1195.45Z" fill="#d9773a"/>
<path d="M309.55 1167.99L313.85 1176.39L305.25 1176.39Z" fill="#d9773a"/>
<path d="M302.26 1159.43L306.56 1167.83L297.96 1167.83Z" fill="#d9773a"/>
<path d="M281.20 1207.58L285.50 1215.98L276.90 1215.98Z" fill="#d9773a"/>
<path d="M230.82 1234.95L235.12 1243.35L226.52 1243.35Z" fill="#d9773a"/>
<path d="M261.08 1222.15L265.38 1230.55L256.78 1230.55Z" fill="#d9773a"/>
<path d="M299.80 1193.76L304.10 1202.16L295.50 1202.16Z" fill="#d9773a"/>
<path d="M279.70 1205.33L284.00 1213.73L275.40 1213.73Z" fill="#d9773a"/>
<path d="M279.15 1206.15L283.45 1214.55L274.85 1214.55Z" fill="#d9773a"/>
<path d="M290.17 1187.21L294.47 1195.61L285.87 1195.61Z" fill="#d9773a"/>
<path d="M270.19 1221.02L274.49 1229.42L265.89 1229.42Z" fill="#d9773a"/>
<path d="M260.01 1225.88L264.31 1234.28L255.71 1234.28Z" fill="#d9773a"/>
<path d="M230.65 1237.06L234.95 1245.46L226.35 1245.46Z" fill="#d9773a"/>
<path d="M258.09 1225.08L262.39 1233.48L253.79 1233.48Z" fill="#d9773a"/>
<path d="M283.93 1190.29L288.23 1198.69L279.63 1198.69Z" fill="#d9773a"/>
<path d="M310.02 1162.73L314.32 1171.13L305.72 1171.13Z" fill="#d9773a"/>
<path d="M277.02 1212.48L281.32 1220.88L272.72 1220.88Z" fill="#d9773a"/>
<path d="M274.19 1218.03L278.49 1226.43L269.89 1226.43Z" fill="#d9773a"/>
<path d="M264.63 1231.09L268.93 1239.49L260.33 1239.49Z" fill="#d9773a"/>
<path d="M247.96 1226.58L252.26 1234.98L243.66 1234.98Z" fill="#d9773a"/>
<path d="M225.18 1251.75L229.48 1260.15L220.88 1260.15Z" fill="#d9773a"/>
<path d="M264.03 1223.72L268.33 1232.12L259.73 1232.12Z" fill="#d9773a"/>
<path d="M273.19 1219.16L277.49 1227.56L268.89 1227.56Z" fill="#d9773a"/>
<path d="M249.05 1235.87L253.35 1244.27L244.75 1244.27Z" fill="#d9773a"/>
<path d="M290.07 1187.55L294.37 1195.95L285.77 1195.95Z" fill="#d9773a"/>
<path d="M237.96 1229.87L242.26 1238.27L233.66 1238.27Z" fill="#d9773a"/>
<path d="M302.78 1172.81L307.08 1181.21L298.48 1181.21Z" fill="#d9773a"/>
<path d="M248.20 1222.96L252.50 1231.36L243.90 1231.36Z" fill="#d9773a"/>
<path d="M302.29 1174.44L306.59 1182.84L297.99 1182.84Z" fill="#d9773a"/>
<path d="M245.80 1225.07L250.10 1233.47L241.50 1233.47Z" fill="#d9773a"/>
<path d="M266.52 1219.57L270.82 1227.97L262.22 1227.97Z" fill="#d9773a"/>
<path d="M285.53 1188.99L289.83 1197.39L281.23 1197.39Z" fill="#d9773a"/>
<path d="M274.25 1199.16L278.55 1207.56L269.95 1207.56Z" fill="#d9773a"/>
<path d="M287.60 1188.91L291.90 1197.31L283.30 1197.31Z" fill="#d9773a"/>
<path d="M262.22 1231.92L266.52 1240.32L257.92 1240.32Z" fill="#d9773a"/>
<path d="M275.73 1209.35L280.03 1217.75L271.43 1217.75Z" fill="#d9773a"/>
<path d="M238.24 1238.94L242.54 1247.34L233.94 1247.34Z" fill="#d9773a"/>
<circle cx="218.90" cy="1360.50" r="4.40" fill="#4472c4"/>
<path d="M218.90 1393.20L223.00 1401.20L214.80 1401.20Z" fill="#d9773a"/>
<line x1="529.20" y1="1030.40" x2="529.20" y2="1472.25" stroke="#000" stroke-width="1.80"/>
<line x1="443.10" y1="1471.45" x2="785.60" y2="1471.45" stroke="#000" stroke-width="1.80"/>
<line x1="443.90" y1="1464.95" x2="443.90" y2="1471.45" stroke="#000" stroke-width="1.60"/>
<line x1="529.10" y1="1464.95" x2="529.10" y2="1471.45" stroke="#000" stroke-width="1.60"/>
<line x1="614.30" y1="1464.95" x2="614.30" y2="1471.45" stroke="#000" stroke-width="1.60"/>
<line x1="699.50" y1="1464.95" x2="699.50" y2="1471.45" stroke="#000" stroke-width="1.60"/>
<line x1="784.70" y1="1464.95" x2="784.70" y2="1471.45" stroke="#000" stroke-width="1.60"/>
<line x1="529.20" y1="1030.40" x2="535.70" y2="1030.40" stroke="#000" stroke-width="1.60"/>
<line x1="529.20" y1="1177.40" x2="535.70" y2="1177.40" stroke="#000" stroke-width="1.60"/>
<line x1="529.20" y1="1324.40" x2="535.70" y2="1324.40" stroke="#000" stroke-width="1.60"/>
<text x="0" y="0" font-size="20.00" text-anchor="end" fill="#262626" transform="translate(509.00 1036.30) scale(1.000 1)">1000</text>
<text x="0" y="0" font-size="20.00" text-anchor="end" fill="#262626" transform="translate(509.00 1183.30) scale(1.000 1)">100</text>
<text x="0" y="0" font-size="20.00" text-anchor="end" fill="#262626" transform="translate(509.00 1330.30) scale(1.000 1)">10</text>
<text x="0" y="0" font-size="19.43" text-anchor="middle" fill="#595959" transform="translate(443.90 1505.11) scale(1.060 1)">0.1</text>
<text x="0" y="0" font-size="19.43" text-anchor="middle" fill="#595959" transform="translate(529.50 1505.11) scale(1.060 1)">1</text>
<text x="0" y="0" font-size="19.43" text-anchor="middle" fill="#595959" transform="translate(614.30 1505.11) scale(1.060 1)">10</text>
<text x="0" y="0" font-size="19.43" text-anchor="middle" fill="#595959" transform="translate(699.50 1505.11) scale(1.060 1)">100</text>
<text x="0" y="0" font-size="19.43" text-anchor="middle" fill="#595959" transform="translate(784.80 1505.11) scale(1.060 1)">1000</text>
<text x="0" y="0" font-size="19.14" text-anchor="end" fill="#595959" transform="translate(508.50 1477.81) scale(0.900 1)">1</text>
<circle cx="715.75" cy="1082.50" r="4.20" fill="#4472c4"/>
<circle cx="711.85" cy="1090.09" r="4.20" fill="#4472c4"/>
<circle cx="696.68" cy="1095.50" r="4.20" fill="#4472c4"/>
<circle cx="688.02" cy="1099.84" r="4.20" fill="#4472c4"/>
<circle cx="666.35" cy="1110.67" r="4.20" fill="#4472c4"/>
<circle cx="683.68" cy="1119.34" r="4.20" fill="#4472c4"/>
<circle cx="649.01" cy="1123.67" r="4.20" fill="#4472c4"/>
<circle cx="653.35" cy="1125.84" r="4.20" fill="#4472c4"/>
<circle cx="677.18" cy="1128.01" r="4.20" fill="#4472c4"/>
<circle cx="670.68" cy="1138.84" r="4.20" fill="#4472c4"/>
<circle cx="675.02" cy="1141.01" r="4.20" fill="#4472c4"/>
<circle cx="662.02" cy="1151.84" r="4.20" fill="#4472c4"/>
<circle cx="664.18" cy="1156.18" r="4.20" fill="#4472c4"/>
<circle cx="657.68" cy="1156.18" r="4.20" fill="#4472c4"/>
<circle cx="655.51" cy="1160.51" r="4.20" fill="#4472c4"/>
<circle cx="638.18" cy="1151.84" r="4.20" fill="#4472c4"/>
<circle cx="640.35" cy="1167.01" r="4.20" fill="#4472c4"/>
<circle cx="642.51" cy="1162.68" r="4.20" fill="#4472c4"/>
<circle cx="629.51" cy="1169.18" r="4.20" fill="#4472c4"/>
<circle cx="642.51" cy="1176.76" r="4.20" fill="#4472c4"/>
<circle cx="628.43" cy="1180.01" r="4.20" fill="#4472c4"/>
<circle cx="605.68" cy="1174.59" r="4.20" fill="#4472c4"/>
<circle cx="610.01" cy="1177.84" r="4.20" fill="#4472c4"/>
<circle cx="612.18" cy="1182.18" r="4.20" fill="#4472c4"/>
<circle cx="614.34" cy="1186.51" r="4.20" fill="#4472c4"/>
<circle cx="598.09" cy="1188.68" r="4.20" fill="#4472c4"/>
<circle cx="624.75" cy="1190.85" r="4.20" fill="#4472c4"/>
<circle cx="657.68" cy="1136.67" r="4.20" fill="#4472c4"/>
<circle cx="666.35" cy="1132.34" r="4.20" fill="#4472c4"/>
<circle cx="650.41" cy="1150.22" r="4.20" fill="#4472c4"/>
<circle cx="671.31" cy="1132.70" r="4.20" fill="#4472c4"/>
<circle cx="655.74" cy="1150.00" r="4.20" fill="#4472c4"/>
<circle cx="672.98" cy="1130.03" r="4.20" fill="#4472c4"/>
<circle cx="675.38" cy="1134.77" r="4.20" fill="#4472c4"/>
<circle cx="665.90" cy="1141.35" r="4.20" fill="#4472c4"/>
<circle cx="683.79" cy="1134.95" r="4.20" fill="#4472c4"/>
<circle cx="657.34" cy="1149.81" r="4.20" fill="#4472c4"/>
<circle cx="662.04" cy="1156.02" r="4.20" fill="#4472c4"/>
<circle cx="693.70" cy="1124.63" r="4.20" fill="#4472c4"/>
<path d="M731.35 1061.37L735.35 1068.97L727.35 1068.97Z" fill="#d9773a"/>
<path d="M693.43 1074.37L697.43 1081.97L689.43 1081.97Z" fill="#d9773a"/>
<path d="M702.10 1074.37L706.10 1081.97L698.10 1081.97Z" fill="#d9773a"/>
<path d="M668.52 1085.20L672.52 1092.80L664.52 1092.80Z" fill="#d9773a"/>
<path d="M685.85 1080.87L689.85 1088.47L681.85 1088.47Z" fill="#d9773a"/>
<path d="M696.68 1078.70L700.68 1086.30L692.68 1086.30Z" fill="#d9773a"/>
<path d="M705.35 1080.87L709.35 1088.47L701.35 1088.47Z" fill="#d9773a"/>
<path d="M709.69 1085.20L713.69 1092.80L705.69 1092.80Z" fill="#d9773a"/>
<path d="M681.52 1089.54L685.52 1097.14L677.52 1097.14Z" fill="#d9773a"/>
<path d="M688.02 1089.54L692.02 1097.14L684.02 1097.14Z" fill="#d9773a"/>
<path d="M696.68 1089.54L700.68 1097.14L692.68 1097.14Z" fill="#d9773a"/>
<path d="M707.52 1089.54L711.52 1097.14L703.52 1097.14Z" fill="#d9773a"/>
<path d="M714.02 1096.04L718.02 1103.64L710.02 1103.64Z" fill="#d9773a"/>
<path d="M675.02 1098.20L679.02 1105.80L671.02 1105.80Z" fill="#d9773a"/>
<path d="M685.85 1098.20L689.85 1105.80L681.85 1105.80Z" fill="#d9773a"/>
<path d="M692.35 1102.54L696.35 1110.14L688.35 1110.14Z" fill="#d9773a"/>
<path d="M705.35 1100.37L709.35 1107.97L701.35 1107.97Z" fill="#d9773a"/>
<path d="M670.68 1106.87L674.68 1114.47L666.68 1114.47Z" fill="#d9773a"/>
<path d="M679.35 1106.87L683.35 1114.47L675.35 1114.47Z" fill="#d9773a"/>
<path d="M659.85 1110.12L663.85 1117.72L655.85 1117.72Z" fill="#d9773a"/>
<path d="M666.35 1113.37L670.35 1120.97L662.35 1120.97Z" fill="#d9773a"/>
<path d="M675.02 1115.54L679.02 1123.14L671.02 1123.14Z" fill="#d9773a"/>
<path d="M683.68 1115.54L687.68 1123.14L679.68 1123.14Z" fill="#d9773a"/>
<path d="M692.35 1116.62L696.35 1124.22L688.35 1124.22Z" fill="#d9773a"/>
<path d="M664.18 1122.04L668.18 1129.64L660.18 1129.64Z" fill="#d9773a"/>
<path d="M670.68 1122.04L674.68 1129.64L666.68 1129.64Z" fill="#d9773a"/>
<path d="M686.93 1123.12L690.93 1130.72L682.93 1130.72Z" fill="#d9773a"/>
<path d="M655.51 1126.37L659.51 1133.97L651.51 1133.97Z" fill="#d9773a"/>
<path d="M662.02 1128.54L666.02 1136.14L658.02 1136.14Z" fill="#d9773a"/>
<path d="M668.52 1128.54L672.52 1136.14L664.52 1136.14Z" fill="#d9773a"/>
<path d="M642.51 1132.87L646.51 1140.47L638.51 1140.47Z" fill="#d9773a"/>
<path d="M649.01 1132.87L653.01 1140.47L645.01 1140.47Z" fill="#d9773a"/>
<path d="M655.51 1137.21L659.51 1144.81L651.51 1144.81Z" fill="#d9773a"/>
<path d="M662.02 1135.04L666.02 1142.64L658.02 1142.64Z" fill="#d9773a"/>
<path d="M675.02 1132.87L679.02 1140.47L671.02 1140.47Z" fill="#d9773a"/>
<path d="M644.68 1139.37L648.68 1146.97L640.68 1146.97Z" fill="#d9773a"/>
<path d="M651.18 1141.54L655.18 1149.14L647.18 1149.14Z" fill="#d9773a"/>
<path d="M640.35 1145.87L644.35 1153.47L636.35 1153.47Z" fill="#d9773a"/>
<path d="M646.85 1148.04L650.85 1155.64L642.85 1155.64Z" fill="#d9773a"/>
<path d="M653.35 1145.87L657.35 1153.47L649.35 1153.47Z" fill="#d9773a"/>
<path d="M638.18 1152.38L642.18 1159.98L634.18 1159.98Z" fill="#d9773a"/>
<path d="M644.68 1154.54L648.68 1162.14L640.68 1162.14Z" fill="#d9773a"/>
<path d="M651.18 1152.38L655.18 1159.98L647.18 1159.98Z" fill="#d9773a"/>
<path d="M631.68 1158.88L635.68 1166.48L627.68 1166.48Z" fill="#d9773a"/>
<path d="M636.01 1156.71L640.01 1164.31L632.01 1164.31Z" fill="#d9773a"/>
<path d="M657.68 1163.21L661.68 1170.81L653.68 1170.81Z" fill="#d9773a"/>
<path d="M656.60 1166.46L660.60 1174.06L652.60 1174.06Z" fill="#d9773a"/>
<path d="M631.68 1164.29L635.68 1171.89L627.68 1171.89Z" fill="#d9773a"/>
<path d="M633.85 1169.71L637.85 1177.31L629.85 1177.31Z" fill="#d9773a"/>
<path d="M620.85 1170.79L624.85 1178.39L616.85 1178.39Z" fill="#d9773a"/>
<path d="M623.01 1169.71L627.01 1177.31L619.01 1177.31Z" fill="#d9773a"/>
<path d="M607.84 1143.71L611.84 1151.31L603.84 1151.31Z" fill="#d9773a"/>
<path d="M603.51 1179.46L607.51 1187.06L599.51 1187.06Z" fill="#d9773a"/>
<path d="M614.34 1184.88L618.34 1192.48L610.34 1192.48Z" fill="#d9773a"/>
<path d="M604.59 1189.21L608.59 1196.81L600.59 1196.81Z" fill="#d9773a"/>
<path d="M600.26 1192.46L604.26 1200.06L596.26 1200.06Z" fill="#d9773a"/>
<path d="M652.26 1188.13L656.26 1195.73L648.26 1195.73Z" fill="#d9773a"/>
<path d="M584.01 1201.13L588.01 1208.73L580.01 1208.73Z" fill="#d9773a"/>
<path d="M601.34 1203.30L605.34 1210.90L597.34 1210.90Z" fill="#d9773a"/>
<path d="M579.67 1209.80L583.67 1217.40L575.67 1217.40Z" fill="#d9773a"/>
<path d="M558.01 1210.88L562.01 1218.48L554.01 1218.48Z" fill="#d9773a"/>
<path d="M561.26 1216.30L565.26 1223.90L557.26 1223.90Z" fill="#d9773a"/>
<path d="M517.92 1223.88L521.92 1231.48L513.92 1231.48Z" fill="#d9773a"/>
<path d="M525.50 1228.22L529.50 1235.82L521.50 1235.82Z" fill="#d9773a"/>
<path d="M521.17 1242.30L525.17 1249.90L517.17 1249.90Z" fill="#d9773a"/>
<path d="M525.50 1243.38L529.50 1250.98L521.50 1250.98Z" fill="#d9773a"/>
<path d="M480.60 1260.20L484.60 1267.80L476.60 1267.80Z" fill="#d9773a"/>
<path d="M713.32 1088.74L717.32 1096.34L709.32 1096.34Z" fill="#d9773a"/>
<path d="M715.22 1093.36L719.22 1100.96L711.22 1100.96Z" fill="#d9773a"/>
<path d="M650.65 1146.70L654.65 1154.30L646.65 1154.30Z" fill="#d9773a"/>
<path d="M662.29 1131.16L666.29 1138.76L658.29 1138.76Z" fill="#d9773a"/>
<path d="M708.46 1086.14L712.46 1093.74L704.46 1093.74Z" fill="#d9773a"/>
<path d="M665.22 1138.27L669.22 1145.87L661.22 1145.87Z" fill="#d9773a"/>
<path d="M684.68 1108.53L688.68 1116.13L680.68 1116.13Z" fill="#d9773a"/>
<path d="M714.82 1083.42L718.82 1091.02L710.82 1091.02Z" fill="#d9773a"/>
<path d="M695.44 1100.68L699.44 1108.28L691.44 1108.28Z" fill="#d9773a"/>
<path d="M681.07 1107.32L685.07 1114.92L677.07 1114.92Z" fill="#d9773a"/>
<path d="M658.64 1133.17L662.64 1140.77L654.64 1140.77Z" fill="#d9773a"/>
<path d="M684.70 1111.52L688.70 1119.12L680.70 1119.12Z" fill="#d9773a"/>
<path d="M711.28 1086.91L715.28 1094.51L707.28 1094.51Z" fill="#d9773a"/>
<path d="M668.24 1100.11L672.24 1107.71L664.24 1107.71Z" fill="#d9773a"/>
<path d="M685.93 1093.66L689.93 1101.26L681.93 1101.26Z" fill="#d9773a"/>
<path d="M715.93 1087.37L719.93 1094.97L711.93 1094.97Z" fill="#d9773a"/>
<path d="M657.76 1132.57L661.76 1140.17L653.76 1140.17Z" fill="#d9773a"/>
<path d="M675.67 1092.28L679.67 1099.88L671.67 1099.88Z" fill="#d9773a"/>
<path d="M645.87 1149.94L649.87 1157.54L641.87 1157.54Z" fill="#d9773a"/>
<path d="M641.89 1140.16L645.89 1147.76L637.89 1147.76Z" fill="#d9773a"/>
<path d="M635.11 1155.85L639.11 1163.45L631.11 1163.45Z" fill="#d9773a"/>
<path d="M712.45 1084.64L716.45 1092.24L708.45 1092.24Z" fill="#d9773a"/>
<path d="M668.65 1110.23L672.65 1117.83L664.65 1117.83Z" fill="#d9773a"/>
<path d="M684.44 1098.55L688.44 1106.15L680.44 1106.15Z" fill="#d9773a"/>
<path d="M711.27 1082.73L715.27 1090.33L707.27 1090.33Z" fill="#d9773a"/>
<path d="M681.51 1108.83L685.51 1116.43L677.51 1116.43Z" fill="#d9773a"/>
<path d="M651.18 1129.75L655.18 1137.35L647.18 1137.35Z" fill="#d9773a"/>
<path d="M663.89 1117.86L667.89 1125.46L659.89 1125.46Z" fill="#d9773a"/>
<path d="M684.40 1096.47L688.40 1104.07L680.40 1104.07Z" fill="#d9773a"/>
<path d="M716.14 1092.66L720.14 1100.26L712.14 1100.26Z" fill="#d9773a"/>
<path d="M656.64 1124.25L660.64 1131.85L652.64 1131.85Z" fill="#d9773a"/>
<path d="M710.68 1086.02L714.68 1093.62L706.68 1093.62Z" fill="#d9773a"/>
<path d="M717.84 1085.91L721.84 1093.51L713.84 1093.51Z" fill="#d9773a"/>
<path d="M639.56 1151.95L643.56 1159.55L635.56 1159.55Z" fill="#d9773a"/>
<path d="M709.42 1087.41L713.42 1095.01L705.42 1095.01Z" fill="#d9773a"/>
<path d="M662.95 1131.18L666.95 1138.78L658.95 1138.78Z" fill="#d9773a"/>
<path d="M656.08 1128.35L660.08 1135.95L652.08 1135.95Z" fill="#d9773a"/>
<path d="M636.77 1159.28L640.77 1166.88L632.77 1166.88Z" fill="#d9773a"/>
<path d="M675.99 1111.78L679.99 1119.38L671.99 1119.38Z" fill="#d9773a"/>
<path d="M642.87 1138.35L646.87 1145.95L638.87 1145.95Z" fill="#d9773a"/>
<path d="M690.85 1098.92L694.85 1106.52L686.85 1106.52Z" fill="#d9773a"/>
<path d="M701.00 1087.58L705.00 1095.18L697.00 1095.18Z" fill="#d9773a"/>
<path d="M719.92 1080.77L723.92 1088.37L715.92 1088.37Z" fill="#d9773a"/>
<path d="M673.24 1115.44L677.24 1123.04L669.24 1123.04Z" fill="#d9773a"/>
<path d="M664.36 1103.68L668.36 1111.28L660.36 1111.28Z" fill="#d9773a"/>
<path d="M687.95 1085.87L691.95 1093.47L683.95 1093.47Z" fill="#d9773a"/>
<path d="M668.82 1115.80L672.82 1123.40L664.82 1123.40Z" fill="#d9773a"/>
<path d="M654.79 1122.87L658.79 1130.47L650.79 1130.47Z" fill="#d9773a"/>
<path d="M697.70 1091.07L701.70 1098.67L693.70 1098.67Z" fill="#d9773a"/>
<path d="M718.33 1084.41L722.33 1092.01L714.33 1092.01Z" fill="#d9773a"/>
<path d="M628.54 1155.23L632.54 1162.83L624.54 1162.83Z" fill="#d9773a"/>
<path d="M658.49 1128.50L662.49 1136.10L654.49 1136.10Z" fill="#d9773a"/>
<path d="M644.39 1144.08L648.39 1151.68L640.39 1151.68Z" fill="#d9773a"/>
<path d="M649.23 1132.67L653.23 1140.27L645.23 1140.27Z" fill="#d9773a"/>
<path d="M638.56 1160.04L642.56 1167.64L634.56 1167.64Z" fill="#d9773a"/>
<path d="M640.90 1149.59L644.90 1157.19L636.90 1157.19Z" fill="#d9773a"/>
<path d="M648.85 1140.46L652.85 1148.06L644.85 1148.06Z" fill="#d9773a"/>
<path d="M653.91 1149.64L657.91 1157.24L649.91 1157.24Z" fill="#d9773a"/>
<path d="M656.90 1137.15L660.90 1144.75L652.90 1144.75Z" fill="#d9773a"/>
<path d="M650.85 1143.25L654.85 1150.85L646.85 1150.85Z" fill="#d9773a"/>
<path d="M658.06 1127.51L662.06 1135.11L654.06 1135.11Z" fill="#d9773a"/>
<path d="M699.77 1075.67L703.77 1083.27L695.77 1083.27Z" fill="#d9773a"/>
<path d="M630.24 1153.41L634.24 1161.01L626.24 1161.01Z" fill="#d9773a"/>
<path d="M639.37 1162.19L643.37 1169.79L635.37 1169.79Z" fill="#d9773a"/>
<path d="M644.49 1139.28L648.49 1146.88L640.49 1146.88Z" fill="#d9773a"/>
<path d="M692.90 1091.52L696.90 1099.12L688.90 1099.12Z" fill="#d9773a"/>
<path d="M687.06 1091.39L691.06 1098.99L683.06 1098.99Z" fill="#d9773a"/>
<path d="M650.76 1139.65L654.76 1147.25L646.76 1147.25Z" fill="#d9773a"/>
<path d="M657.77 1139.35L661.77 1146.95L653.77 1146.95Z" fill="#d9773a"/>
<path d="M646.83 1148.23L650.83 1155.83L642.83 1155.83Z" fill="#d9773a"/>
<path d="M708.07 1083.89L712.07 1091.49L704.07 1091.49Z" fill="#d9773a"/>
<path d="M670.66 1113.18L674.66 1120.78L666.66 1120.78Z" fill="#d9773a"/>
<path d="M683.84 1107.59L687.84 1115.19L679.84 1115.19Z" fill="#d9773a"/>
<path d="M635.47 1159.32L639.47 1166.92L631.47 1166.92Z" fill="#d9773a"/>
<path d="M698.08 1095.48L702.08 1103.08L694.08 1103.08Z" fill="#d9773a"/>
<path d="M715.12 1091.63L719.12 1099.23L711.12 1099.23Z" fill="#d9773a"/>
<path d="M703.07 1086.29L707.07 1093.89L699.07 1093.89Z" fill="#d9773a"/>
<path d="M647.60 1151.84L651.60 1159.44L643.60 1159.44Z" fill="#d9773a"/>
<path d="M662.72 1132.13L666.72 1139.73L658.72 1139.73Z" fill="#d9773a"/>
<path d="M627.90 1156.15L631.90 1163.75L623.90 1163.75Z" fill="#d9773a"/>
<path d="M660.45 1123.70L664.45 1131.30L656.45 1131.30Z" fill="#d9773a"/>
<path d="M696.77 1085.77L700.77 1093.37L692.77 1093.37Z" fill="#d9773a"/>
<path d="M707.99 1080.67L711.99 1088.27L703.99 1088.27Z" fill="#d9773a"/>
<path d="M703.01 1084.30L707.01 1091.90L699.01 1091.90Z" fill="#d9773a"/>
<path d="M673.80 1113.59L677.80 1121.19L669.80 1121.19Z" fill="#d9773a"/>
<path d="M647.48 1148.58L651.48 1156.18L643.48 1156.18Z" fill="#d9773a"/>
<path d="M700.88 1078.86L704.88 1086.46L696.88 1086.46Z" fill="#d9773a"/>
<path d="M699.28 1086.17L703.28 1093.77L695.28 1093.77Z" fill="#d9773a"/>
<path d="M713.12 1090.93L717.12 1098.53L709.12 1098.53Z" fill="#d9773a"/>
<path d="M707.09 1089.45L711.09 1097.05L703.09 1097.05Z" fill="#d9773a"/>
<path d="M690.97 1086.31L694.97 1093.91L686.97 1093.91Z" fill="#d9773a"/>
<path d="M651.06 1145.36L655.06 1152.96L647.06 1152.96Z" fill="#d9773a"/>
<path d="M648.53 1148.60L652.53 1156.20L644.53 1156.20Z" fill="#d9773a"/>
<path d="M651.65 1139.51L655.65 1147.11L647.65 1147.11Z" fill="#d9773a"/>
<path d="M675.10 1113.91L679.10 1121.51L671.10 1121.51Z" fill="#d9773a"/>
<path d="M675.96 1108.13L679.96 1115.73L671.96 1115.73Z" fill="#d9773a"/>
<path d="M704.45 1080.81L708.45 1088.41L700.45 1088.41Z" fill="#d9773a"/>
<path d="M692.64 1087.37L696.64 1094.97L688.64 1094.97Z" fill="#d9773a"/>
<path d="M638.79 1163.51L642.79 1171.11L634.79 1171.11Z" fill="#d9773a"/>
<path d="M697.17 1085.47L701.17 1093.07L693.17 1093.07Z" fill="#d9773a"/>
<path d="M700.62 1087.51L704.62 1095.11L696.62 1095.11Z" fill="#d9773a"/>
<path d="M647.11 1145.01L651.11 1152.61L643.11 1152.61Z" fill="#d9773a"/>
<path d="M679.17 1119.50L683.17 1127.10L675.17 1127.10Z" fill="#d9773a"/>
<path d="M661.68 1119.43L665.68 1127.03L657.68 1127.03Z" fill="#d9773a"/>
<path d="M681.41 1102.25L685.41 1109.85L677.41 1109.85Z" fill="#d9773a"/>
<path d="M718.29 1088.19L722.29 1095.79L714.29 1095.79Z" fill="#d9773a"/>
<path d="M714.38 1086.04L718.38 1093.64L710.38 1093.64Z" fill="#d9773a"/>
<path d="M692.24 1079.67L696.24 1087.27L688.24 1087.27Z" fill="#d9773a"/>
<path d="M682.89 1098.61L686.89 1106.21L678.89 1106.21Z" fill="#d9773a"/>
<path d="M653.42 1140.42L657.42 1148.02L649.42 1148.02Z" fill="#d9773a"/>
<path d="M639.26 1158.10L643.26 1165.70L635.26 1165.70Z" fill="#d9773a"/>
<path d="M632.62 1157.83L636.62 1165.43L628.62 1165.43Z" fill="#d9773a"/>
<path d="M659.36 1133.43L663.36 1141.03L655.36 1141.03Z" fill="#d9773a"/>
<path d="M660.00 1131.31L664.00 1138.91L656.00 1138.91Z" fill="#d9773a"/>
<path d="M642.30 1141.92L646.30 1149.52L638.30 1149.52Z" fill="#d9773a"/>
<path d="M660.13 1127.75L664.13 1135.35L656.13 1135.35Z" fill="#d9773a"/>
<path d="M697.97 1085.18L701.97 1092.78L693.97 1092.78Z" fill="#d9773a"/>
<path d="M707.71 1090.37L711.71 1097.97L703.71 1097.97Z" fill="#d9773a"/>
<path d="M714.80 1088.19L718.80 1095.79L710.80 1095.79Z" fill="#d9773a"/>
<path d="M712.66 1087.98L716.66 1095.58L708.66 1095.58Z" fill="#d9773a"/>
<path d="M673.21 1112.87L677.21 1120.47L669.21 1120.47Z" fill="#d9773a"/>
<path d="M652.64 1139.77L656.64 1147.37L648.64 1147.37Z" fill="#d9773a"/>
<path d="M656.73 1131.80L660.73 1139.40L652.73 1139.40Z" fill="#d9773a"/>
<path d="M714.70 1093.02L718.70 1100.62L710.70 1100.62Z" fill="#d9773a"/>
<path d="M702.11 1089.59L706.11 1097.19L698.11 1097.19Z" fill="#d9773a"/>
<path d="M699.89 1090.48L703.89 1098.08L695.89 1098.08Z" fill="#d9773a"/>
<path d="M674.95 1115.93L678.95 1123.53L670.95 1123.53Z" fill="#d9773a"/>
<path d="M663.15 1126.06L667.15 1133.66L659.15 1133.66Z" fill="#d9773a"/>
<path d="M710.56 1079.96L714.56 1087.56L706.56 1087.56Z" fill="#d9773a"/>
<path d="M680.42 1099.97L684.42 1107.57L676.42 1107.57Z" fill="#d9773a"/>
<path d="M633.47 1154.52L637.47 1162.12L629.47 1162.12Z" fill="#d9773a"/>
<path d="M679.93 1092.83L683.93 1100.43L675.93 1100.43Z" fill="#d9773a"/>
<path d="M660.08 1126.56L664.08 1134.16L656.08 1134.16Z" fill="#d9773a"/>
<path d="M639.13 1153.95L643.13 1161.55L635.13 1161.55Z" fill="#d9773a"/>
<path d="M638.74 1141.75L642.74 1149.35L634.74 1149.35Z" fill="#d9773a"/>
<path d="M651.00 1141.92L655.00 1149.52L647.00 1149.52Z" fill="#d9773a"/>
<path d="M666.24 1113.70L670.24 1121.30L662.24 1121.30Z" fill="#d9773a"/>
<path d="M629.97 1156.08L633.97 1163.68L625.97 1163.68Z" fill="#d9773a"/>
<path d="M715.08 1082.86L719.08 1090.46L711.08 1090.46Z" fill="#d9773a"/>
<path d="M649.15 1137.16L653.15 1144.76L645.15 1144.76Z" fill="#d9773a"/>
<circle cx="570.80" cy="1356.40" r="4.40" fill="#4472c4"/>
<path d="M570.80 1396.60L574.90 1404.60L566.70 1404.60Z" fill="#d9773a"/>
<line x1="863.90" y1="1030.60" x2="863.90" y2="1467.80" stroke="#000" stroke-width="1.80"/>
<line x1="863.10" y1="1467.00" x2="1180.00" y2="1467.00" stroke="#000" stroke-width="1.80"/>
<line x1="863.90" y1="1460.50" x2="863.90" y2="1467.00" stroke="#000" stroke-width="1.60"/>
<line x1="969.00" y1="1460.50" x2="969.00" y2="1467.00" stroke="#000" stroke-width="1.60"/>
<line x1="1074.10" y1="1460.50" x2="1074.10" y2="1467.00" stroke="#000" stroke-width="1.60"/>
<line x1="1179.20" y1="1460.50" x2="1179.20" y2="1467.00" stroke="#000" stroke-width="1.60"/>
<line x1="863.90" y1="1030.60" x2="870.40" y2="1030.60" stroke="#000" stroke-width="1.60"/>
<line x1="863.90" y1="1176.07" x2="870.40" y2="1176.07" stroke="#000" stroke-width="1.60"/>
<line x1="863.90" y1="1321.54" x2="870.40" y2="1321.54" stroke="#000" stroke-width="1.60"/>
<text x="0" y="0" font-size="19.71" text-anchor="end" fill="#000" transform="translate(844.10 1036.50) scale(1.000 1)">1000</text>
<text x="0" y="0" font-size="19.71" text-anchor="end" fill="#000" transform="translate(844.10 1182.00) scale(1.000 1)">100</text>
<text x="0" y="0" font-size="19.71" text-anchor="end" fill="#000" transform="translate(844.10 1327.40) scale(1.000 1)">10</text>
<text x="0" y="0" font-size="19.71" text-anchor="end" fill="#000" transform="translate(844.10 1472.90) scale(1.000 1)">1</text>
<text x="0" y="0" font-size="19.71" text-anchor="middle" fill="#000" transform="translate(863.90 1501.00) scale(1.060 1)">1</text>
<text x="0" y="0" font-size="19.71" text-anchor="middle" fill="#000" transform="translate(969.00 1501.00) scale(1.060 1)">10</text>
<text x="0" y="0" font-size="19.71" text-anchor="middle" fill="#000" transform="translate(1074.00 1501.00) scale(1.060 1)">100</text>
<text x="0" y="0" font-size="19.71" text-anchor="middle" fill="#000" transform="translate(1179.20 1501.00) scale(1.060 1)">1000</text>
<circle cx="1025.83" cy="1109.17" r="4.40" fill="#4472c4"/>
<circle cx="1036.67" cy="1110.83" r="4.40" fill="#4472c4"/>
<circle cx="1045.00" cy="1103.33" r="4.40" fill="#4472c4"/>
<circle cx="1050.00" cy="1101.67" r="4.40" fill="#4472c4"/>
<circle cx="1056.67" cy="1101.67" r="4.40" fill="#4472c4"/>
<circle cx="1061.67" cy="1101.67" r="4.40" fill="#4472c4"/>
<circle cx="1075.00" cy="1105.83" r="4.40" fill="#4472c4"/>
<circle cx="1048.33" cy="1110.00" r="4.40" fill="#4472c4"/>
<circle cx="1055.00" cy="1111.67" r="4.40" fill="#4472c4"/>
<circle cx="1063.33" cy="1110.00" r="4.40" fill="#4472c4"/>
<circle cx="1068.33" cy="1111.67" r="4.40" fill="#4472c4"/>
<circle cx="1050.00" cy="1116.67" r="4.40" fill="#4472c4"/>
<circle cx="1056.67" cy="1116.67" r="4.40" fill="#4472c4"/>
<circle cx="1065.00" cy="1118.33" r="4.40" fill="#4472c4"/>
<circle cx="1070.00" cy="1120.00" r="4.40" fill="#4472c4"/>
<circle cx="1053.33" cy="1123.33" r="4.40" fill="#4472c4"/>
<circle cx="1060.00" cy="1125.00" r="4.40" fill="#4472c4"/>
<circle cx="1066.67" cy="1125.00" r="4.40" fill="#4472c4"/>
<circle cx="1048.33" cy="1130.00" r="4.40" fill="#4472c4"/>
<circle cx="1056.67" cy="1130.00" r="4.40" fill="#4472c4"/>
<circle cx="1051.67" cy="1139.17" r="4.40" fill="#4472c4"/>
<circle cx="1045.00" cy="1141.67" r="4.40" fill="#4472c4"/>
<circle cx="1038.33" cy="1146.67" r="4.40" fill="#4472c4"/>
<circle cx="1036.67" cy="1150.00" r="4.40" fill="#4472c4"/>
<circle cx="1016.67" cy="1170.00" r="4.40" fill="#4472c4"/>
<circle cx="1010.00" cy="1133.33" r="4.40" fill="#4472c4"/>
<circle cx="1057.09" cy="1120.94" r="4.40" fill="#4472c4"/>
<circle cx="1053.21" cy="1125.25" r="4.40" fill="#4472c4"/>
<circle cx="1050.48" cy="1126.24" r="4.40" fill="#4472c4"/>
<circle cx="1058.31" cy="1104.06" r="4.40" fill="#4472c4"/>
<circle cx="1058.41" cy="1113.23" r="4.40" fill="#4472c4"/>
<circle cx="1069.91" cy="1105.62" r="4.40" fill="#4472c4"/>
<circle cx="1046.89" cy="1116.04" r="4.40" fill="#4472c4"/>
<circle cx="1059.64" cy="1127.59" r="4.40" fill="#4472c4"/>
<circle cx="1045.83" cy="1113.26" r="4.40" fill="#4472c4"/>
<circle cx="1061.12" cy="1114.70" r="4.40" fill="#4472c4"/>
<circle cx="1050.00" cy="1110.60" r="4.40" fill="#4472c4"/>
<circle cx="1070.88" cy="1112.44" r="4.40" fill="#4472c4"/>
<circle cx="1053.29" cy="1126.36" r="4.40" fill="#4472c4"/>
<circle cx="1061.04" cy="1104.27" r="4.40" fill="#4472c4"/>
<circle cx="1058.70" cy="1106.30" r="4.40" fill="#4472c4"/>
<circle cx="1042.27" cy="1118.73" r="4.40" fill="#4472c4"/>
<circle cx="1051.76" cy="1115.33" r="4.40" fill="#4472c4"/>
<circle cx="1066.57" cy="1120.28" r="4.40" fill="#4472c4"/>
<circle cx="1048.19" cy="1110.77" r="4.40" fill="#4472c4"/>
<circle cx="1062.26" cy="1114.03" r="4.40" fill="#4472c4"/>
<circle cx="1058.14" cy="1102.88" r="4.40" fill="#4472c4"/>
<circle cx="1063.46" cy="1117.81" r="4.40" fill="#4472c4"/>
<circle cx="1044.68" cy="1119.29" r="4.40" fill="#4472c4"/>
<circle cx="1072.10" cy="1111.72" r="4.40" fill="#4472c4"/>
<circle cx="1060.40" cy="1122.59" r="4.40" fill="#4472c4"/>
<circle cx="1059.95" cy="1122.49" r="4.40" fill="#4472c4"/>
<circle cx="1055.08" cy="1105.28" r="4.40" fill="#4472c4"/>
<circle cx="1042.83" cy="1114.23" r="4.40" fill="#4472c4"/>
<circle cx="1055.74" cy="1122.56" r="4.40" fill="#4472c4"/>
<circle cx="1068.26" cy="1108.67" r="4.40" fill="#4472c4"/>
<circle cx="1061.54" cy="1121.61" r="4.40" fill="#4472c4"/>
<circle cx="1049.79" cy="1115.71" r="4.40" fill="#4472c4"/>
<circle cx="1063.06" cy="1116.27" r="4.40" fill="#4472c4"/>
<circle cx="1050.00" cy="1126.04" r="4.40" fill="#4472c4"/>
<circle cx="1062.93" cy="1105.04" r="4.40" fill="#4472c4"/>
<circle cx="1051.57" cy="1112.07" r="4.40" fill="#4472c4"/>
<circle cx="1045.99" cy="1124.94" r="4.40" fill="#4472c4"/>
<circle cx="1045.42" cy="1112.79" r="4.40" fill="#4472c4"/>
<circle cx="1065.06" cy="1105.18" r="4.40" fill="#4472c4"/>
<circle cx="1048.00" cy="1119.12" r="4.40" fill="#4472c4"/>
<circle cx="1064.12" cy="1112.38" r="4.40" fill="#4472c4"/>
<circle cx="1067.50" cy="1106.89" r="4.40" fill="#4472c4"/>
<circle cx="1061.42" cy="1119.56" r="4.40" fill="#4472c4"/>
<circle cx="1059.56" cy="1120.58" r="4.40" fill="#4472c4"/>
<circle cx="1052.45" cy="1107.18" r="4.40" fill="#4472c4"/>
<path d="M909.17 1230.80L913.47 1239.20L904.87 1239.20Z" fill="#d9773a"/>
<path d="M911.67 1221.63L915.97 1230.03L907.37 1230.03Z" fill="#d9773a"/>
<path d="M918.33 1234.13L922.63 1242.53L914.03 1242.53Z" fill="#d9773a"/>
<path d="M925.00 1215.80L929.30 1224.20L920.70 1224.20Z" fill="#d9773a"/>
<path d="M933.33 1226.63L937.63 1235.03L929.03 1235.03Z" fill="#d9773a"/>
<path d="M940.83 1190.80L945.13 1199.20L936.53 1199.20Z" fill="#d9773a"/>
<path d="M947.50 1190.80L951.80 1199.20L943.20 1199.20Z" fill="#d9773a"/>
<path d="M946.17 1164.97L950.47 1173.37L941.87 1173.37Z" fill="#d9773a"/>
<path d="M966.67 1177.47L970.97 1185.87L962.37 1185.87Z" fill="#d9773a"/>
<path d="M967.00 1183.30L971.30 1191.70L962.70 1191.70Z" fill="#d9773a"/>
<path d="M980.83 1189.13L985.13 1197.53L976.53 1197.53Z" fill="#d9773a"/>
<path d="M979.17 1194.97L983.47 1203.37L974.87 1203.37Z" fill="#d9773a"/>
<path d="M986.67 1182.47L990.97 1190.87L982.37 1190.87Z" fill="#d9773a"/>
<path d="M990.83 1184.13L995.13 1192.53L986.53 1192.53Z" fill="#d9773a"/>
<path d="M998.33 1181.63L1002.63 1190.03L994.03 1190.03Z" fill="#d9773a"/>
<path d="M997.17 1192.47L1001.47 1200.87L992.87 1200.87Z" fill="#d9773a"/>
<path d="M980.83 1145.80L985.13 1154.20L976.53 1154.20Z" fill="#d9773a"/>
<path d="M987.50 1150.80L991.80 1159.20L983.20 1159.20Z" fill="#d9773a"/>
<path d="M981.67 1154.13L985.97 1162.53L977.37 1162.53Z" fill="#d9773a"/>
<path d="M980.83 1163.30L985.13 1171.70L976.53 1171.70Z" fill="#d9773a"/>
<path d="M986.67 1162.47L990.97 1170.87L982.37 1170.87Z" fill="#d9773a"/>
<path d="M989.17 1161.63L993.47 1170.03L984.87 1170.03Z" fill="#d9773a"/>
<path d="M987.50 1165.80L991.80 1174.20L983.20 1174.20Z" fill="#d9773a"/>
<path d="M994.17 1145.80L998.47 1154.20L989.87 1154.20Z" fill="#d9773a"/>
<path d="M996.67 1152.47L1000.97 1160.87L992.37 1160.87Z" fill="#d9773a"/>
<path d="M996.67 1162.47L1000.97 1170.87L992.37 1170.87Z" fill="#d9773a"/>
<path d="M1000.83 1140.80L1005.13 1149.20L996.53 1149.20Z" fill="#d9773a"/>
<path d="M1005.00 1165.80L1009.30 1174.20L1000.70 1174.20Z" fill="#d9773a"/>
<path d="M1007.50 1170.80L1011.80 1179.20L1003.20 1179.20Z" fill="#d9773a"/>
<path d="M1013.33 1164.13L1017.63 1172.53L1009.03 1172.53Z" fill="#d9773a"/>
<path d="M1016.67 1160.80L1020.97 1169.20L1012.37 1169.20Z" fill="#d9773a"/>
<path d="M1006.67 1129.13L1010.97 1137.53L1002.37 1137.53Z" fill="#d9773a"/>
<path d="M1010.00 1130.80L1014.30 1139.20L1005.70 1139.20Z" fill="#d9773a"/>
<path d="M1006.67 1149.13L1010.97 1157.53L1002.37 1157.53Z" fill="#d9773a"/>
<path d="M1013.33 1147.47L1017.63 1155.87L1009.03 1155.87Z" fill="#d9773a"/>
<path d="M1016.67 1154.13L1020.97 1162.53L1012.37 1162.53Z" fill="#d9773a"/>
<path d="M1020.00 1155.80L1024.30 1164.20L1015.70 1164.20Z" fill="#d9773a"/>
<path d="M1025.00 1159.13L1029.30 1167.53L1020.70 1167.53Z" fill="#d9773a"/>
<path d="M1030.00 1154.13L1034.30 1162.53L1025.70 1162.53Z" fill="#d9773a"/>
<path d="M1035.00 1155.80L1039.30 1164.20L1030.70 1164.20Z" fill="#d9773a"/>
<path d="M1045.00 1154.13L1049.30 1162.53L1040.70 1162.53Z" fill="#d9773a"/>
<path d="M1015.00 1135.80L1019.30 1144.20L1010.70 1144.20Z" fill="#d9773a"/>
<path d="M1021.67 1130.80L1025.97 1139.20L1017.37 1139.20Z" fill="#d9773a"/>
<path d="M1023.33 1122.47L1027.63 1130.87L1019.03 1130.87Z" fill="#d9773a"/>
<path d="M1028.33 1119.13L1032.63 1127.53L1024.03 1127.53Z" fill="#d9773a"/>
<path d="M1033.33 1114.13L1037.63 1122.53L1029.03 1122.53Z" fill="#d9773a"/>
<path d="M1036.67 1119.13L1040.97 1127.53L1032.37 1127.53Z" fill="#d9773a"/>
<path d="M1041.67 1112.47L1045.97 1120.87L1037.37 1120.87Z" fill="#d9773a"/>
<path d="M1043.33 1117.47L1047.63 1125.87L1039.03 1125.87Z" fill="#d9773a"/>
<path d="M1051.67 1125.80L1055.97 1134.20L1047.37 1134.20Z" fill="#d9773a"/>
<path d="M1031.67 1130.80L1035.97 1139.20L1027.37 1139.20Z" fill="#d9773a"/>
<path d="M1035.00 1135.80L1039.30 1144.20L1030.70 1144.20Z" fill="#d9773a"/>
<path d="M1026.67 1139.13L1030.97 1147.53L1022.37 1147.53Z" fill="#d9773a"/>
<path d="M1020.00 1142.47L1024.30 1150.87L1015.70 1150.87Z" fill="#d9773a"/>
<path d="M1025.00 1147.47L1029.30 1155.87L1020.70 1155.87Z" fill="#d9773a"/>
<path d="M1031.67 1145.80L1035.97 1154.20L1027.37 1154.20Z" fill="#d9773a"/>
<path d="M1028.33 1125.80L1032.63 1134.20L1024.03 1134.20Z" fill="#d9773a"/>
<path d="M1016.67 1125.80L1020.97 1134.20L1012.37 1134.20Z" fill="#d9773a"/>
<path d="M1007.16 1150.96L1011.46 1159.36L1002.86 1159.36Z" fill="#d9773a"/>
<path d="M1037.91 1121.60L1042.21 1130.00L1033.61 1130.00Z" fill="#d9773a"/>
<path d="M1019.87 1132.37L1024.17 1140.77L1015.57 1140.77Z" fill="#d9773a"/>
<path d="M1019.16 1130.70L1023.46 1139.10L1014.86 1139.10Z" fill="#d9773a"/>
<path d="M1026.57 1111.60L1030.87 1120.00L1022.27 1120.00Z" fill="#d9773a"/>
<path d="M1034.62 1117.22L1038.92 1125.62L1030.32 1125.62Z" fill="#d9773a"/>
<path d="M1021.96 1142.70L1026.26 1151.10L1017.66 1151.10Z" fill="#d9773a"/>
<path d="M1008.02 1148.34L1012.32 1156.74L1003.72 1156.74Z" fill="#d9773a"/>
<path d="M1003.43 1152.76L1007.73 1161.16L999.13 1161.16Z" fill="#d9773a"/>
<path d="M1027.72 1113.47L1032.02 1121.87L1023.42 1121.87Z" fill="#d9773a"/>
<path d="M1039.02 1117.42L1043.32 1125.82L1034.72 1125.82Z" fill="#d9773a"/>
<path d="M1009.27 1149.63L1013.57 1158.03L1004.97 1158.03Z" fill="#d9773a"/>
<path d="M1040.86 1118.18L1045.16 1126.58L1036.56 1126.58Z" fill="#d9773a"/>
<path d="M1006.05 1153.96L1010.35 1162.36L1001.75 1162.36Z" fill="#d9773a"/>
<path d="M1008.93 1154.11L1013.23 1162.51L1004.63 1162.51Z" fill="#d9773a"/>
<path d="M1009.98 1147.32L1014.28 1155.72L1005.68 1155.72Z" fill="#d9773a"/>
<path d="M1015.84 1142.02L1020.14 1150.42L1011.54 1150.42Z" fill="#d9773a"/>
<path d="M1031.75 1120.00L1036.05 1128.40L1027.45 1128.40Z" fill="#d9773a"/>
<path d="M1025.87 1119.41L1030.17 1127.81L1021.57 1127.81Z" fill="#d9773a"/>
<path d="M1029.09 1120.55L1033.39 1128.95L1024.79 1128.95Z" fill="#d9773a"/>
<path d="M1023.98 1129.58L1028.28 1137.98L1019.68 1137.98Z" fill="#d9773a"/>
<path d="M1015.00 1145.61L1019.30 1154.01L1010.70 1154.01Z" fill="#d9773a"/>
<path d="M1020.71 1139.66L1025.01 1148.06L1016.41 1148.06Z" fill="#d9773a"/>
<path d="M1005.88 1150.55L1010.18 1158.95L1001.58 1158.95Z" fill="#d9773a"/>
<path d="M1020.98 1134.65L1025.28 1143.05L1016.68 1143.05Z" fill="#d9773a"/>
<path d="M1024.71 1121.57L1029.01 1129.97L1020.41 1129.97Z" fill="#d9773a"/>
<path d="M1011.93 1153.54L1016.23 1161.94L1007.63 1161.94Z" fill="#d9773a"/>
<path d="M1007.62 1153.23L1011.92 1161.63L1003.32 1161.63Z" fill="#d9773a"/>
<path d="M1011.86 1139.36L1016.16 1147.76L1007.56 1147.76Z" fill="#d9773a"/>
<path d="M1006.77 1153.40L1011.07 1161.80L1002.47 1161.80Z" fill="#d9773a"/>
<path d="M1009.64 1157.45L1013.94 1165.85L1005.34 1165.85Z" fill="#d9773a"/>
<path d="M1037.75 1115.08L1042.05 1123.48L1033.45 1123.48Z" fill="#d9773a"/>
<path d="M1026.85 1138.31L1031.15 1146.71L1022.55 1146.71Z" fill="#d9773a"/>
<path d="M1022.94 1126.20L1027.24 1134.60L1018.64 1134.60Z" fill="#d9773a"/>
<path d="M1018.93 1129.23L1023.23 1137.63L1014.63 1137.63Z" fill="#d9773a"/>
<path d="M1015.97 1137.55L1020.27 1145.95L1011.67 1145.95Z" fill="#d9773a"/>
<path d="M1030.77 1126.40L1035.07 1134.80L1026.47 1134.80Z" fill="#d9773a"/>
<path d="M1026.63 1138.10L1030.93 1146.50L1022.33 1146.50Z" fill="#d9773a"/>
<path d="M1026.29 1130.60L1030.59 1139.00L1021.99 1139.00Z" fill="#d9773a"/>
<path d="M1003.52 1144.31L1007.82 1152.71L999.22 1152.71Z" fill="#d9773a"/>
<path d="M1012.69 1143.69L1016.99 1152.09L1008.39 1152.09Z" fill="#d9773a"/>
<path d="M1038.67 1116.97L1042.97 1125.37L1034.37 1125.37Z" fill="#d9773a"/>
<path d="M1029.38 1134.53L1033.68 1142.93L1025.08 1142.93Z" fill="#d9773a"/>
<path d="M1012.87 1139.22L1017.17 1147.62L1008.57 1147.62Z" fill="#d9773a"/>
<path d="M1041.43 1120.60L1045.73 1129.00L1037.13 1129.00Z" fill="#d9773a"/>
<path d="M1004.71 1148.79L1009.01 1157.19L1000.41 1157.19Z" fill="#d9773a"/>
<path d="M1015.90 1141.46L1020.20 1149.86L1011.60 1149.86Z" fill="#d9773a"/>
<path d="M1009.67 1152.45L1013.97 1160.85L1005.37 1160.85Z" fill="#d9773a"/>
<path d="M1030.46 1126.83L1034.76 1135.23L1026.16 1135.23Z" fill="#d9773a"/>
<path d="M1030.87 1121.81L1035.17 1130.21L1026.57 1130.21Z" fill="#d9773a"/>
<path d="M1016.45 1122.25L1020.75 1130.65L1012.15 1130.65Z" fill="#d9773a"/>
<path d="M1017.00 1138.30L1021.30 1146.70L1012.70 1146.70Z" fill="#d9773a"/>
<path d="M1040.38 1129.52L1044.68 1137.92L1036.08 1137.92Z" fill="#d9773a"/>
<path d="M1011.85 1147.40L1016.15 1155.80L1007.55 1155.80Z" fill="#d9773a"/>
<path d="M1008.49 1156.82L1012.79 1165.22L1004.19 1165.22Z" fill="#d9773a"/>
<path d="M1023.40 1122.35L1027.70 1130.75L1019.10 1130.75Z" fill="#d9773a"/>
<path d="M1029.50 1121.37L1033.80 1129.77L1025.20 1129.77Z" fill="#d9773a"/>
<path d="M1015.40 1141.08L1019.70 1149.48L1011.10 1149.48Z" fill="#d9773a"/>
<path d="M1040.25 1119.87L1044.55 1128.27L1035.95 1128.27Z" fill="#d9773a"/>
<path d="M1018.02 1134.65L1022.32 1143.05L1013.72 1143.05Z" fill="#d9773a"/>
<path d="M1018.92 1134.79L1023.22 1143.19L1014.62 1143.19Z" fill="#d9773a"/>
<path d="M1032.96 1120.19L1037.26 1128.59L1028.66 1128.59Z" fill="#d9773a"/>
<path d="M1010.13 1141.45L1014.43 1149.85L1005.83 1149.85Z" fill="#d9773a"/>
<path d="M1006.06 1149.72L1010.36 1158.12L1001.76 1158.12Z" fill="#d9773a"/>
<path d="M1029.89 1107.61L1034.19 1116.01L1025.59 1116.01Z" fill="#d9773a"/>
<path d="M1034.44 1118.98L1038.74 1127.38L1030.14 1127.38Z" fill="#d9773a"/>
<path d="M1033.57 1127.23L1037.87 1135.63L1029.27 1135.63Z" fill="#d9773a"/>
<path d="M1041.87 1118.47L1046.17 1126.87L1037.57 1126.87Z" fill="#d9773a"/>
<path d="M1022.31 1134.29L1026.61 1142.69L1018.01 1142.69Z" fill="#d9773a"/>
<path d="M1040.95 1117.15L1045.25 1125.55L1036.65 1125.55Z" fill="#d9773a"/>
<circle cx="984.80" cy="1360.10" r="4.40" fill="#4472c4"/>
<path d="M984.80 1401.40L988.90 1409.40L980.70 1409.40Z" fill="#d9773a"/>
<text x="78.75" y="26.80" font-size="37.68" textLength="23.38" lengthAdjust="spacingAndGlyphs" fill="#000">A</text>
<text x="617.33" y="27.70" font-size="38.26" textLength="22.72" lengthAdjust="spacingAndGlyphs" fill="#000">B</text>
<text x="71.23" y="413.70" font-size="38.41" textLength="23.11" lengthAdjust="spacingAndGlyphs" fill="#000">C</text>
<text x="609.76" y="430.50" font-size="38.04" textLength="25.08" lengthAdjust="spacingAndGlyphs" fill="#000">D</text>
<text x="20.82" y="1003.00" font-size="43.91" textLength="28.44" lengthAdjust="spacingAndGlyphs" fill="#000">E</text>
<text x="428.89" y="1006.75" font-size="43.91" textLength="25.87" lengthAdjust="spacingAndGlyphs" fill="#000">F</text>
<text x="814.33" y="1010.30" font-size="43.48" textLength="33.35" lengthAdjust="spacingAndGlyphs" fill="#000">G</text>
<text x="202.50" y="24.00" font-size="22.32" textLength="199.61" lengthAdjust="spacingAndGlyphs" fill="#5f4597">ApoAII-ATQ-specific</text>
<text x="256.85" y="52.70" font-size="20.14" textLength="87.56" lengthAdjust="spacingAndGlyphs" fill="#5f4597">antibody</text>
<text x="198.58" y="81.00" font-size="22.32" textLength="206.16" lengthAdjust="spacingAndGlyphs" fill="#5f4597">(mouse monoclonal)</text>
<text x="340.90" y="210.10" font-size="21.45" textLength="204.10" lengthAdjust="spacingAndGlyphs" fill="#4a6fae">Pan-apoAII antibody</text>
<text x="359.63" y="238.30" font-size="21.45" textLength="168.26" lengthAdjust="spacingAndGlyphs" fill="#4a6fae">(goat polyclonal)</text>
<text x="870.39" y="49.10" font-size="21.30" textLength="203.31" lengthAdjust="spacingAndGlyphs" fill="#4a6fae">Pan-apoAII antibody</text>
<text x="871.43" y="77.50" font-size="21.30" textLength="206.19" lengthAdjust="spacingAndGlyphs" fill="#4a6fae">(mouse monoclonal)</text>
<text x="967.40" y="176.40" font-size="21.30" textLength="183.03" lengthAdjust="spacingAndGlyphs" fill="#c23a35">ApoAII-AT-specific</text>
<text x="1013.94" y="205.00" font-size="20.14" textLength="88.37" lengthAdjust="spacingAndGlyphs" fill="#c23a35">antibody</text>
<text x="967.21" y="234.30" font-size="21.30" textLength="182.88" lengthAdjust="spacingAndGlyphs" fill="#c23a35">(rabbit polyclonal)</text>
<text x="152.74" y="413.40" font-size="24.64" textLength="413.14" lengthAdjust="spacingAndGlyphs" fill="#000">Specific reactivity of apoAII-AT ELISA</text>
<text x="718.29" y="409.70" font-size="24.64" textLength="431.99" lengthAdjust="spacingAndGlyphs" fill="#000">Specific reactivity of apoAII-ATQ ELISA</text>
<text x="236.03" y="923.50" font-size="24.35" textLength="277.23" lengthAdjust="spacingAndGlyphs" fill="#000">GST-fusion protein (µg/ml)</text>
<text x="804.53" y="923.50" font-size="24.35" textLength="277.48" lengthAdjust="spacingAndGlyphs" fill="#000">GST-fusion protein (µg/ml)</text>
<text transform="translate(85.00 707.50) rotate(-90)" x="0" y="0" font-size="24.35" textLength="124.71" lengthAdjust="spacingAndGlyphs" fill="#000">Absorbance</text>
<text transform="translate(650.20 704.10) rotate(-90)" x="0" y="0" font-size="24.78" textLength="123.91" lengthAdjust="spacingAndGlyphs" fill="#000">Absorbance</text>
<text x="257.12" y="504.50" font-size="19.57" textLength="51.58" lengthAdjust="spacingAndGlyphs" fill="#595959">GST-A</text>
<text x="257.10" y="543.00" font-size="19.57" textLength="62.53" lengthAdjust="spacingAndGlyphs" fill="#595959">GST-AT</text>
<text x="257.10" y="580.00" font-size="19.57" textLength="76.21" lengthAdjust="spacingAndGlyphs" fill="#595959">GST-ATQ</text>
<text x="777.63" y="479.50" font-size="19.57" textLength="51.07" lengthAdjust="spacingAndGlyphs" fill="#595959">GST-A</text>
<text x="777.60" y="519.00" font-size="19.57" textLength="62.02" lengthAdjust="spacingAndGlyphs" fill="#595959">GST-AT</text>
<text x="777.60" y="558.50" font-size="19.57" textLength="75.71" lengthAdjust="spacingAndGlyphs" fill="#595959">GST-ATQ</text>
<text x="259.92" y="1324.75" font-size="21.30" textLength="103.81" lengthAdjust="spacingAndGlyphs" fill="#000">CC=0.831</text>
<text x="227.15" y="1365.60" font-size="23.19" textLength="178.47" lengthAdjust="spacingAndGlyphs" fill="#000">Healthy controls</text>
<text x="224.50" y="1401.20" font-size="23.91" textLength="76.61" lengthAdjust="spacingAndGlyphs" fill="#000">IDACP</text>
<text x="574.44" y="1325.20" font-size="22.17" textLength="106.64" lengthAdjust="spacingAndGlyphs" fill="#000">CC=0.862</text>
<text x="599.20" y="1356.00" font-size="23.62" textLength="84.07" lengthAdjust="spacingAndGlyphs" fill="#000">Healthy</text>
<text x="599.87" y="1377.90" font-size="21.92" textLength="86.95" lengthAdjust="spacingAndGlyphs" fill="#000">controls</text>
<text x="599.65" y="1416.90" font-size="24.64" textLength="77.04" lengthAdjust="spacingAndGlyphs" fill="#000">IDACP</text>
<text x="966.80" y="1319.50" font-size="23.19" textLength="104.69" lengthAdjust="spacingAndGlyphs" fill="#000">CC=0.824</text>
<text x="1010.70" y="1355.90" font-size="24.64" textLength="83.40" lengthAdjust="spacingAndGlyphs" fill="#000">Healthy</text>
<text x="1011.32" y="1387.50" font-size="23.01" textLength="86.66" lengthAdjust="spacingAndGlyphs" fill="#000">controls</text>
<text x="1010.98" y="1424.60" font-size="23.62" textLength="76.34" lengthAdjust="spacingAndGlyphs" fill="#000">IDACP</text>
<text x="114.93" y="1540.20" font-size="21.30" textLength="228.29" lengthAdjust="spacingAndGlyphs" fill="#000">ELISA apoAII-AT (µg/ml)</text>
<text x="514.70" y="1542.70" font-size="20.00" textLength="244.62" lengthAdjust="spacingAndGlyphs" fill="#000">ELISA apoAII-ATQ (µg/ml)</text>
<text x="869.98" y="1535.60" font-size="21.74" textLength="318.85" lengthAdjust="spacingAndGlyphs" fill="#000">ELISA apoAII-II √(ATQ*AT) (µg/ml)</text>
<text transform="translate(63.50 1386.12) rotate(-90)" x="0" y="0" font-size="23.62" textLength="231.04" lengthAdjust="spacingAndGlyphs" fill="#000">MS apoAII-AT/AT (units)</text>
<text transform="translate(454.40 1396.54) rotate(-90)" x="0" y="0" font-size="23.19" textLength="261.55" lengthAdjust="spacingAndGlyphs" fill="#000">MS apoAII-ATQ/ATQ (units)</text>
<text transform="translate(799.80 1374.04) rotate(-90)" x="0" y="0" font-size="22.17" textLength="246.78" lengthAdjust="spacingAndGlyphs" fill="#000">MS apoAII-ATQ/AT (units)</text>
</svg></body></html>
